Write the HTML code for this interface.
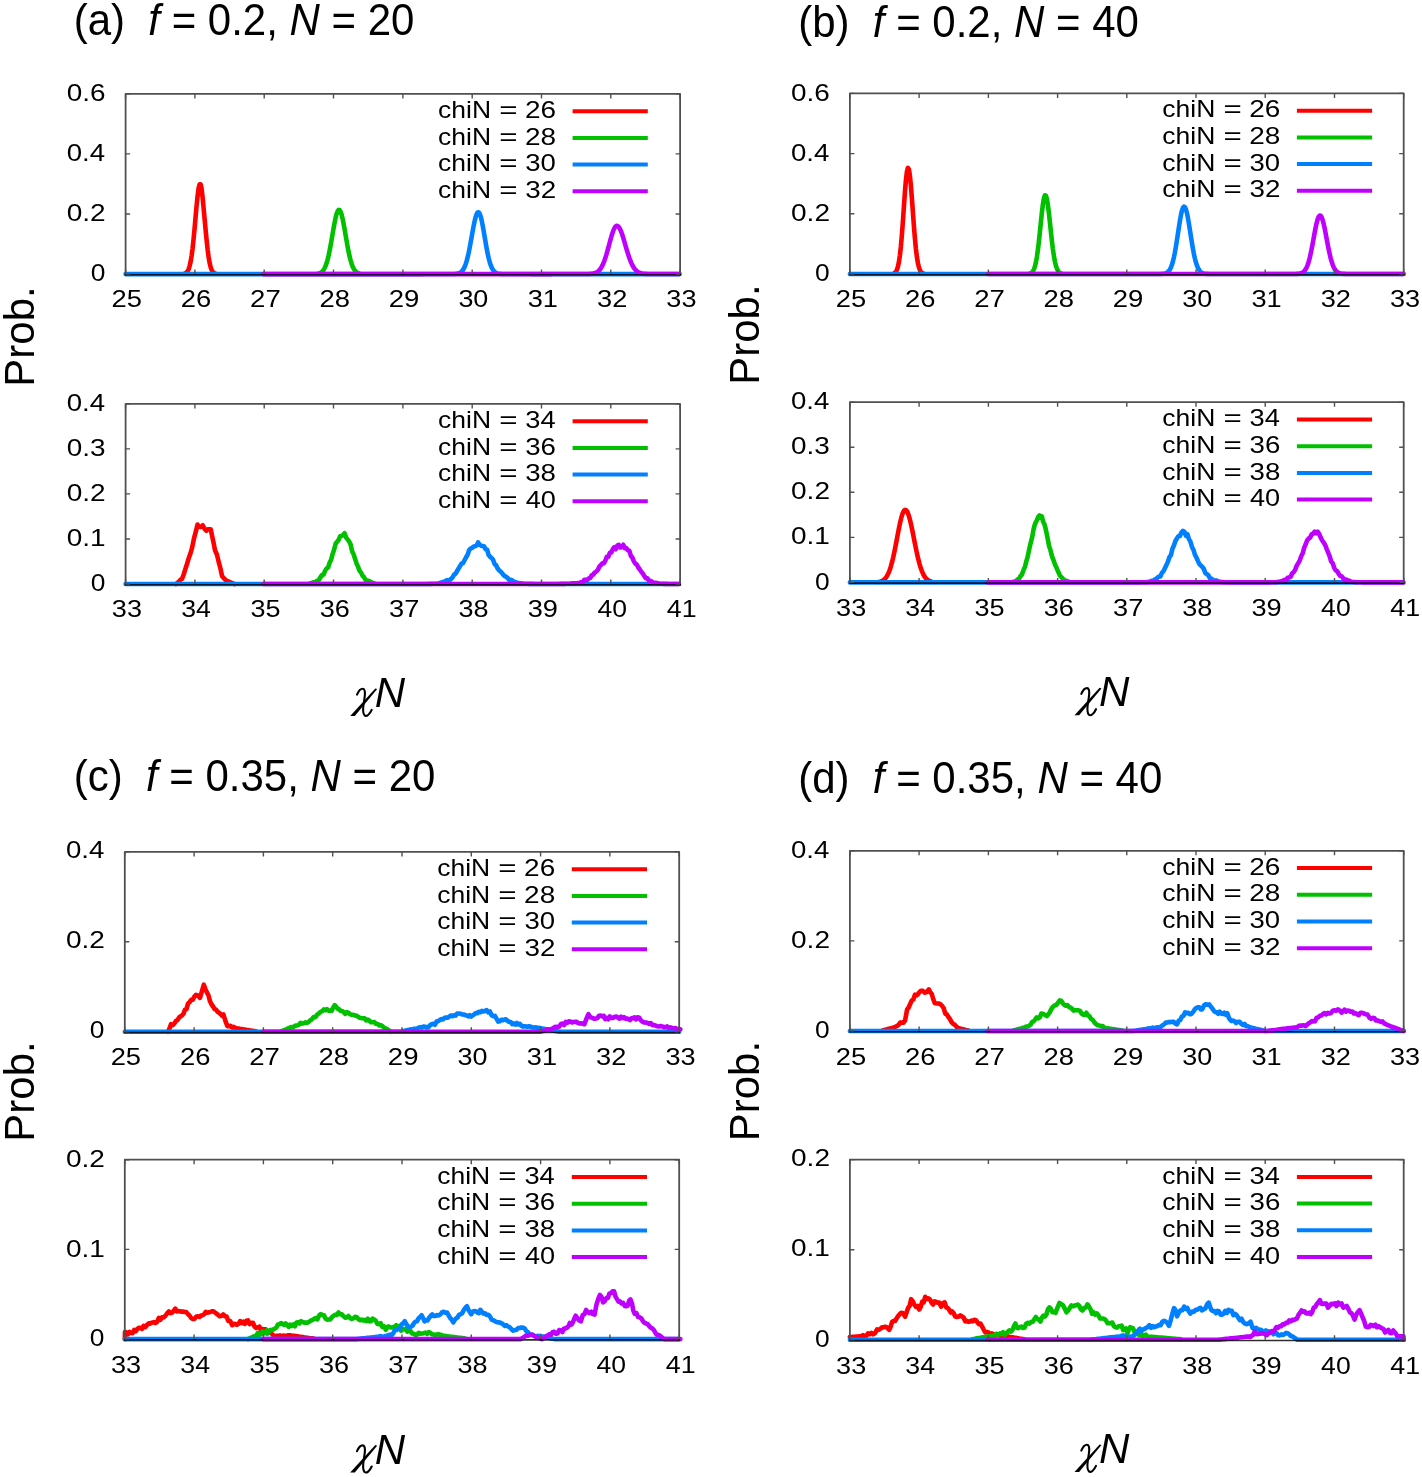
<!DOCTYPE html>
<html><head><meta charset="utf-8"><style>
html,body{margin:0;padding:0;background:#fff;}
body{width:1422px;height:1477px;overflow:hidden;font-family:"Liberation Sans", sans-serif;}
svg{display:block;filter:blur(0.45px);}
</style></head><body>
<svg width="1422" height="1477" viewBox="0 0 1422 1477">
<rect width="1422" height="1477" fill="#fff"/>
<g font-family='"Liberation Sans", sans-serif' font-size="23" fill="#000">
<path d="M184.6,273.6 L185.6,273.2 L186.6,272.4 L187.6,271.2 L188.6,269.2 L189.6,266.1 L190.6,261.8 L191.6,255.8 L192.6,248.2 L193.6,238.8 L194.6,228.2 L195.6,216.8 L196.6,205.6 L197.6,195.8 L198.6,188.3 L199.6,184.2 L200.6,184.2 L201.6,188.8 L202.6,197.4 L203.6,208.1 L204.6,219.0 L205.6,229.7 L206.6,240.0 L207.6,249.3 L208.6,256.9 L209.6,262.8 L210.6,267.0 L211.6,269.8 L212.6,271.7 L213.6,272.7 L214.6,273.4 L215.6,273.7" fill="none" stroke="#ff0000" stroke-width="4.6" stroke-linejoin="round" stroke-linecap="round"/>
<path d="M318.6,273.5 L319.6,273.2 L320.6,272.7 L321.6,272.1 L322.6,271.1 L323.6,269.8 L324.6,268.1 L325.6,265.9 L326.6,263.1 L327.6,259.6 L328.6,255.5 L329.6,250.7 L330.6,245.5 L331.6,239.8 L332.6,233.9 L333.6,228.1 L334.6,222.6 L335.6,217.8 L336.6,213.9 L337.6,211.2 L338.6,209.9 L339.6,210.1 L340.6,211.7 L341.6,214.6 L342.6,218.7 L343.6,223.7 L344.6,229.2 L345.6,235.1 L346.6,240.9 L347.6,246.6 L348.6,251.7 L349.6,256.4 L350.6,260.3 L351.6,263.7 L352.6,266.4 L353.6,268.5 L354.6,270.1 L355.6,271.3 L356.6,272.2 L357.6,272.8 L358.6,273.3 L359.6,273.6" fill="none" stroke="#00c000" stroke-width="4.6" stroke-linejoin="round" stroke-linecap="round"/>
<path d="M125.6,274.1 L126.6,274.1 L127.6,274.1 L128.6,274.1 L129.6,274.1 L130.6,274.1 L131.6,274.1 L132.6,274.1 L133.6,274.1 L134.6,274.1 L135.6,274.1 L136.6,274.1 L137.6,274.1 L138.6,274.1 L139.6,274.1 L140.6,274.1 L141.6,274.1 L142.6,274.1 L143.6,274.1 L144.6,274.1 L145.6,274.1 L146.6,274.1 L147.6,274.1 L148.6,274.1 L149.6,274.1 L150.6,274.1 L151.6,274.1 L152.6,274.1 L153.6,274.1 L154.6,274.1 L155.6,274.1 L156.6,274.1 L157.6,274.1 L158.6,274.1 L159.6,274.1 L160.6,274.1 L161.6,274.1 L162.6,274.1 L163.6,274.1 L164.6,274.1 L165.6,274.1 L166.6,274.1 L167.6,274.1 L168.6,274.1 L169.6,274.1 L170.6,274.1 L171.6,274.1 L172.6,274.1 L173.6,274.1 L174.6,274.1 L175.6,274.1 L176.6,274.1 L177.6,274.1 L178.6,274.1 L179.6,274.1 L180.6,274.1 L181.6,274.1 L182.6,274.1 L183.6,274.1 L184.6,274.1 L185.6,274.1 L186.6,274.1 L187.6,274.1 L188.6,274.1 L189.6,274.1 L190.6,274.1 L191.6,274.1 L192.6,274.1 L193.6,274.1 L194.6,274.1 L195.6,274.1 L196.6,274.1 L197.6,274.1 L198.6,274.1 L199.6,274.1 L200.6,274.1 L201.6,274.1 L202.6,274.1 L203.6,274.1 L204.6,274.1 L205.6,274.1 L206.6,274.1 L207.6,274.1 L208.6,274.1 L209.6,274.1 L210.6,274.1 L211.6,274.1 L212.6,274.1 L213.6,274.1 L214.6,274.1 L215.6,274.1 L216.6,274.1 L217.6,274.1 L218.6,274.1 L219.6,274.1 L220.6,274.1 L221.6,274.1 L222.6,274.1 L223.6,274.1 L224.6,274.1 L225.6,274.1 L226.6,274.1 L227.6,274.1 L228.6,274.1 L229.6,274.1 L230.6,274.1 L231.6,274.1 L232.6,274.1 L233.6,274.1 L234.6,274.1 L235.6,274.1 L236.6,274.1 L237.6,274.1 L238.6,274.1 L239.6,274.1 L240.6,274.1 L241.6,274.1 L242.6,274.1 L243.6,274.1 L244.6,274.1 L245.6,274.1 L246.6,274.1 L247.6,274.1 L248.6,274.1 L249.6,274.1 L250.6,274.1 L251.6,274.1 L252.6,274.1 L253.6,274.1 L254.6,274.1 L255.6,274.1 L256.6,274.1 L257.6,274.1 L258.6,274.1 L259.6,274.1 L260.6,274.1 L261.6,274.1 L262.6,274.1 L263.6,274.1 L264.6,274.1 L265.6,274.1 L266.6,274.1 L267.6,274.1 L268.6,274.1 L269.6,274.1 L270.6,274.1 L271.6,274.1 L272.6,274.1 L273.6,274.1 L274.6,274.1 L275.6,274.1 L276.6,274.1 L277.6,274.1 L278.6,274.1 L279.6,274.1 L280.6,274.1 L281.6,274.1 L282.6,274.1 L283.6,274.1 L284.6,274.1 L285.6,274.1 L286.6,274.1 L287.6,274.1 L288.6,274.1 L289.6,274.1 L290.6,274.1 L291.6,274.1 L292.6,274.1 L293.6,274.1 L294.6,274.1 L295.6,274.1 L296.6,274.1 L297.6,274.1 L298.6,274.1 L299.6,274.1 L300.6,274.1 L301.6,274.1 L302.6,274.1 L303.6,274.1 L304.6,274.1 L305.6,274.1 L306.6,274.1 L307.6,274.1 L308.6,274.1 L309.6,274.1 L310.6,274.1 L311.6,274.1 L312.6,274.1 L313.6,274.1 L314.6,274.1 L315.6,274.1 L316.6,274.1 L317.6,274.1 L318.6,274.1 L319.6,274.1 L320.6,274.1 L321.6,274.1 L322.6,274.1 L323.6,274.1 L324.6,274.1 L325.6,274.1 L326.6,274.1 L327.6,274.1 L328.6,274.1 L329.6,274.1 L330.6,274.1 L331.6,274.1 L332.6,274.1 L333.6,274.1 L334.6,274.1 L335.6,274.1 L336.6,274.1 L337.6,274.1 L338.6,274.1 L339.6,274.1 L340.6,274.1 L341.6,274.1 L342.6,274.1 L343.6,274.1 L344.6,274.1 L345.6,274.1 L346.6,274.1 L347.6,274.1 L348.6,274.1 L349.6,274.1 L350.6,274.1 L351.6,274.1 L352.6,274.1 L353.6,274.1 L354.6,274.1 L355.6,274.1 L356.6,274.1 L357.6,274.1 L358.6,274.1 L359.6,274.1 L360.6,274.1 L361.6,274.1 L362.6,274.1 L363.6,274.1 L364.6,274.1 L365.6,274.1 L366.6,274.1 L367.6,274.1 L368.6,274.1 L369.6,274.1 L370.6,274.1 L371.6,274.1 L372.6,274.1 L373.6,274.1 L374.6,274.1 L375.6,274.1 L376.6,274.1 L377.6,274.1 L378.6,274.1 L379.6,274.1 L380.6,274.1 L381.6,274.1 L382.6,274.1 L383.6,274.1 L384.6,274.1 L385.6,274.1 L386.6,274.1 L387.6,274.1 L388.6,274.1 L389.6,274.1 L390.6,274.1 L391.6,274.1 L392.6,274.1 L393.6,274.1 L394.6,274.1 L395.6,274.1 L396.6,274.1 L397.6,274.1 L398.6,274.1 L399.6,274.1 L400.6,274.1 L401.6,274.1 L402.6,274.1 L403.6,274.1 L404.6,274.1 L405.6,274.1 L406.6,274.1 L407.6,274.1 L408.6,274.1 L409.6,274.1 L410.6,274.1 L411.6,274.1 L412.6,274.1 L413.6,274.1 L414.6,274.1 L415.6,274.1 L416.6,274.1 L417.6,274.1 L418.6,274.1 L419.6,274.1 L420.6,274.1 L421.6,274.1 L422.6,274.1 L423.6,274.0 L424.6,274.0 L425.6,274.0 L426.6,274.0 L427.6,274.0 L428.6,274.0 L429.6,274.0 L430.6,274.0 L431.6,274.0 L432.6,274.0 L433.6,274.0 L434.6,274.0 L435.6,274.0 L436.6,274.0 L437.6,274.0 L438.6,274.0 L439.6,274.0 L440.6,274.0 L441.6,274.0 L442.6,274.0 L443.6,274.0 L444.6,274.0 L445.6,274.0 L446.6,274.0 L447.6,274.0 L448.6,274.0 L449.6,274.0 L450.6,274.0 L451.6,274.0 L452.6,274.0 L453.6,274.0 L454.6,274.0 L455.6,273.9 L456.6,273.8 L457.6,273.6 L458.6,273.3 L459.6,272.9 L460.6,272.4 L461.6,271.5 L462.6,270.4 L463.6,268.9 L464.6,266.9 L465.6,264.3 L466.6,261.2 L467.6,257.4 L468.6,253.0 L469.6,248.1 L470.6,242.7 L471.6,237.1 L472.6,231.5 L473.6,226.1 L474.6,221.2 L475.6,217.2 L476.6,214.2 L477.6,212.5 L478.6,212.3 L479.6,213.5 L480.6,216.2 L481.6,220.1 L482.6,225.1 L483.6,230.6 L484.6,236.5 L485.6,242.4 L486.6,248.1 L487.6,253.2 L488.6,257.8 L489.6,261.7 L490.6,264.9 L491.6,267.4 L492.6,269.3 L493.6,270.8 L494.6,271.9 L495.6,272.6 L496.6,273.1 L497.6,273.5 L498.6,273.7 L499.6,273.8 L500.6,273.9 L501.6,274.0 L502.6,274.0 L503.6,274.0 L504.6,274.0 L505.6,274.0 L506.6,274.0 L507.6,274.0 L508.6,274.0 L509.6,274.0 L510.6,274.0 L511.6,274.0 L512.6,274.0 L513.6,274.0 L514.6,274.0 L515.6,274.0 L516.6,274.0 L517.6,274.0 L518.6,274.0 L519.6,274.0 L520.6,274.0 L521.6,274.0 L522.6,274.0 L523.6,274.0 L524.6,274.0 L525.6,274.0 L526.6,274.0 L527.6,274.0 L528.6,274.0 L529.6,274.0 L530.6,274.0 L531.6,274.1 L532.6,274.1 L533.6,274.1 L534.6,274.1 L535.6,274.1 L536.6,274.1 L537.6,274.1 L538.6,274.1 L539.6,274.1 L540.6,274.1 L541.6,274.1 L542.6,274.1 L543.6,274.1 L544.6,274.1 L545.6,274.1 L546.6,274.1 L547.6,274.1 L548.6,274.1 L549.6,274.1 L550.6,274.1 L551.6,274.1 L552.6,274.1 L553.6,274.1 L554.6,274.1 L555.6,274.1 L556.6,274.1 L557.6,274.1 L558.6,274.1 L559.6,274.1 L560.6,274.1 L561.6,274.1 L562.6,274.1 L563.6,274.1 L564.6,274.1 L565.6,274.1 L566.6,274.1 L567.6,274.1 L568.6,274.1 L569.6,274.1 L570.6,274.1 L571.6,274.1 L572.6,274.1 L573.6,274.1 L574.6,274.1 L575.6,274.1 L576.6,274.1 L577.6,274.1 L578.6,274.1 L579.6,274.1 L580.6,274.1 L581.6,274.1 L582.6,274.1 L583.6,274.1 L584.6,274.1 L585.6,274.1 L586.6,274.1 L587.6,274.1 L588.6,274.1 L589.6,274.1 L590.6,274.1 L591.6,274.1 L592.6,274.1 L593.6,274.1 L594.6,274.1 L595.6,274.1 L596.6,274.1 L597.6,274.1 L598.6,274.1 L599.6,274.1 L600.6,274.1 L601.6,274.1 L602.6,274.1 L603.6,274.1 L604.6,274.1 L605.6,274.1 L606.6,274.1 L607.6,274.1 L608.6,274.1 L609.6,274.1 L610.6,274.1 L611.6,274.1 L612.6,274.1 L613.6,274.1 L614.6,274.1 L615.6,274.1 L616.6,274.1 L617.6,274.1 L618.6,274.1 L619.6,274.1 L620.6,274.1 L621.6,274.1 L622.6,274.1 L623.6,274.1 L624.6,274.1 L625.6,274.1 L626.6,274.1 L627.6,274.1 L628.6,274.1 L629.6,274.1 L630.6,274.1 L631.6,274.1 L632.6,274.1 L633.6,274.1 L634.6,274.1 L635.6,274.1 L636.6,274.1 L637.6,274.1 L638.6,274.1 L639.6,274.1 L640.6,274.1 L641.6,274.1 L642.6,274.1 L643.6,274.1 L644.6,274.1 L645.6,274.1 L646.6,274.1 L647.6,274.1 L648.6,274.1 L649.6,274.1 L650.6,274.1 L651.6,274.1 L652.6,274.1 L653.6,274.1 L654.6,274.1 L655.6,274.1 L656.6,274.1 L657.6,274.1 L658.6,274.1 L659.6,274.1 L660.6,274.1 L661.6,274.1 L662.6,274.1 L663.6,274.1 L664.6,274.1 L665.6,274.1 L666.6,274.1 L667.6,274.1 L668.6,274.1 L669.6,274.1 L670.6,274.1 L671.6,274.1 L672.6,274.1 L673.6,274.1 L674.6,274.1 L675.6,274.1 L676.6,274.1 L677.6,274.1 L678.6,274.1 L679.6,274.1" fill="none" stroke="#0080ff" stroke-width="4.6" stroke-linejoin="round" stroke-linecap="round"/>
<path d="M263.3,274.1 L264.3,274.1 L265.3,274.1 L266.3,274.1 L267.3,274.1 L268.3,274.1 L269.3,274.1 L270.3,274.1 L271.3,274.1 L272.3,274.1 L273.3,274.1 L274.3,274.1 L275.3,274.1 L276.3,274.1 L277.3,274.1 L278.3,274.1 L279.3,274.1 L280.3,274.1 L281.3,274.1 L282.3,274.1 L283.3,274.1 L284.3,274.1 L285.3,274.1 L286.3,274.1 L287.3,274.1 L288.3,274.1 L289.3,274.1 L290.3,274.1 L291.3,274.1 L292.3,274.1 L293.3,274.1 L294.3,274.1 L295.3,274.1 L296.3,274.1 L297.3,274.1 L298.3,274.1 L299.3,274.1 L300.3,274.1 L301.3,274.1 L302.3,274.1 L303.3,274.1 L304.3,274.1 L305.3,274.1 L306.3,274.1 L307.3,274.1 L308.3,274.1 L309.3,274.1 L310.3,274.1 L311.3,274.1 L312.3,274.1 L313.3,274.1 L314.3,274.1 L315.3,274.1 L316.3,274.1 L317.3,274.1 L318.3,274.1 L319.3,274.1 L320.3,274.1 L321.3,274.1 L322.3,274.1 L323.3,274.1 L324.3,274.1 L325.3,274.1 L326.3,274.1 L327.3,274.1 L328.3,274.1 L329.3,274.1 L330.3,274.1 L331.3,274.1 L332.3,274.1 L333.3,274.1 L334.3,274.1 L335.3,274.1 L336.3,274.1 L337.3,274.1 L338.3,274.1 L339.3,274.1 L340.3,274.1 L341.3,274.1 L342.3,274.1 L343.3,274.1 L344.3,274.1 L345.3,274.1 L346.3,274.1 L347.3,274.1 L348.3,274.1 L349.3,274.1 L350.3,274.1 L351.3,274.1 L352.3,274.1 L353.3,274.1 L354.3,274.1 L355.3,274.1 L356.3,274.1 L357.3,274.1 L358.3,274.1 L359.3,274.1 L360.3,274.1 L361.3,274.1 L362.3,274.1 L363.3,274.1 L364.3,274.1 L365.3,274.1 L366.3,274.1 L367.3,274.1 L368.3,274.1 L369.3,274.1 L370.3,274.1 L371.3,274.1 L372.3,274.1 L373.3,274.1 L374.3,274.1 L375.3,274.1 L376.3,274.1 L377.3,274.1 L378.3,274.1 L379.3,274.1 L380.3,274.1 L381.3,274.1 L382.3,274.1 L383.3,274.1 L384.3,274.1 L385.3,274.1 L386.3,274.1 L387.3,274.1 L388.3,274.1 L389.3,274.1 L390.3,274.1 L391.3,274.1 L392.3,274.1 L393.3,274.1 L394.3,274.1 L395.3,274.1 L396.3,274.1 L397.3,274.1 L398.3,274.1 L399.3,274.1 L400.3,274.1 L401.3,274.1 L402.3,274.1 L403.3,274.1 L404.3,274.1 L405.3,274.1 L406.3,274.1 L407.3,274.1 L408.3,274.1 L409.3,274.1 L410.3,274.1 L411.3,274.1 L412.3,274.1 L413.3,274.1 L414.3,274.1 L415.3,274.1 L416.3,274.1 L417.3,274.1 L418.3,274.1 L419.3,274.1 L420.3,274.1 L421.3,274.1 L422.3,274.1 L423.3,274.1 L424.3,274.1 L425.3,274.1 L426.3,274.1 L427.3,274.1 L428.3,274.1 L429.3,274.1 L430.3,274.1 L431.3,274.1 L432.3,274.1 L433.3,274.1 L434.3,274.1 L435.3,274.1 L436.3,274.1 L437.3,274.1 L438.3,274.1 L439.3,274.1 L440.3,274.1 L441.3,274.1 L442.3,274.1 L443.3,274.1 L444.3,274.1 L445.3,274.1 L446.3,274.1 L447.3,274.1 L448.3,274.1 L449.3,274.1 L450.3,274.1 L451.3,274.1 L452.3,274.1 L453.3,274.1 L454.3,274.1 L455.3,274.1 L456.3,274.1 L457.3,274.1 L458.3,274.1 L459.3,274.1 L460.3,274.1 L461.3,274.1 L462.3,274.1 L463.3,274.1 L464.3,274.1 L465.3,274.1 L466.3,274.1 L467.3,274.1 L468.3,274.1 L469.3,274.1 L470.3,274.1 L471.3,274.1 L472.3,274.1 L473.3,274.1 L474.3,274.1 L475.3,274.1 L476.3,274.1 L477.3,274.1 L478.3,274.1 L479.3,274.1 L480.3,274.1 L481.3,274.1 L482.3,274.1 L483.3,274.1 L484.3,274.1 L485.3,274.1 L486.3,274.1 L487.3,274.1 L488.3,274.1 L489.3,274.1 L490.3,274.1 L491.3,274.1 L492.3,274.1 L493.3,274.1 L494.3,274.1 L495.3,274.1 L496.3,274.1 L497.3,274.1 L498.3,274.1 L499.3,274.1 L500.3,274.1 L501.3,274.1 L502.3,274.1 L503.3,274.1 L504.3,274.1 L505.3,274.1 L506.3,274.1 L507.3,274.1 L508.3,274.1 L509.3,274.1 L510.3,274.1 L511.3,274.1 L512.3,274.1 L513.3,274.1 L514.3,274.1 L515.3,274.1 L516.3,274.1 L517.3,274.1 L518.3,274.1 L519.3,274.1 L520.3,274.1 L521.3,274.1 L522.3,274.1 L523.3,274.1 L524.3,274.1 L525.3,274.1 L526.3,274.1 L527.3,274.1 L528.3,274.1 L529.3,274.1 L530.3,274.1 L531.3,274.1 L532.3,274.1 L533.3,274.1 L534.3,274.1 L535.3,274.1 L536.3,274.1 L537.3,274.1 L538.3,274.1 L539.3,274.1 L540.3,274.1 L541.3,274.1 L542.3,274.1 L543.3,274.1 L544.3,274.1 L545.3,274.1 L546.3,274.1 L547.3,274.1 L548.3,274.1 L549.3,274.1 L550.3,274.1 L551.3,274.1 L552.3,274.0 L553.3,274.0 L554.3,274.0 L555.3,274.0 L556.3,274.0 L557.3,274.0 L558.3,274.0 L559.3,274.0 L560.3,274.0 L561.3,274.0 L562.3,274.0 L563.3,274.0 L564.3,274.0 L565.3,274.0 L566.3,274.0 L567.3,274.0 L568.3,274.0 L569.3,274.0 L570.3,274.0 L571.3,274.0 L572.3,274.0 L573.3,274.0 L574.3,274.0 L575.3,274.0 L576.3,274.0 L577.3,274.0 L578.3,274.0 L579.3,274.0 L580.3,274.0 L581.3,274.0 L582.3,274.0 L583.3,274.0 L584.3,274.0 L585.3,274.0 L586.3,274.0 L587.3,274.0 L588.3,274.0 L589.3,274.0 L590.3,273.9 L591.3,273.8 L592.3,273.7 L593.3,273.6 L594.3,273.3 L595.3,273.0 L596.3,272.6 L597.3,272.0 L598.3,271.2 L599.3,270.3 L600.3,269.0 L601.3,267.5 L602.3,265.7 L603.3,263.5 L604.3,261.0 L605.3,258.1 L606.3,254.9 L607.3,251.4 L608.3,247.8 L609.3,244.0 L610.3,240.3 L611.3,236.8 L612.3,233.5 L613.3,230.7 L614.3,228.4 L615.3,226.8 L616.3,225.9 L617.3,225.9 L618.3,226.5 L619.3,227.7 L620.3,229.6 L621.3,232.0 L622.3,234.8 L623.3,238.0 L624.3,241.3 L625.3,244.8 L626.3,248.3 L627.3,251.6 L628.3,254.8 L629.3,257.8 L630.3,260.5 L631.3,262.9 L632.3,265.1 L633.3,266.9 L634.3,268.4 L635.3,269.7 L636.3,270.7 L637.3,271.5 L638.3,272.2 L639.3,272.7 L640.3,273.1 L641.3,273.3 L642.3,273.6 L643.3,273.7 L644.3,273.8 L645.3,273.9 L646.3,273.9 L647.3,274.0 L648.3,274.0 L649.3,274.0 L650.3,274.0 L651.3,274.0 L652.3,274.0 L653.3,274.0 L654.3,274.0 L655.3,274.0 L656.3,274.0 L657.3,274.0 L658.3,274.0 L659.3,274.0 L660.3,274.0 L661.3,274.0 L662.3,274.0 L663.3,274.0 L664.3,274.0 L665.3,274.0 L666.3,274.0 L667.3,274.0 L668.3,274.0 L669.3,274.0 L670.3,274.0 L671.3,274.0 L672.3,274.0 L673.3,274.0 L674.3,274.0 L675.3,274.0 L676.3,274.0 L677.3,274.0 L678.3,274.0 L679.3,274.0" fill="none" stroke="#c000ff" stroke-width="4.6" stroke-linejoin="round" stroke-linecap="round"/>
<path d="M125.6,275.7V93.9H680.1V275.7" fill="none" stroke="#505050" stroke-width="1.8" stroke-linejoin="round"/>
<line x1="124.8" y1="274.80" x2="680.9" y2="274.80" stroke="#000" stroke-opacity="0.82" stroke-width="1.6"/>
<path d="M125.6,274.1v-4.5M125.6,93.9v4.5M194.9,274.1v-4.5M194.9,93.9v4.5M264.2,274.1v-4.5M264.2,93.9v4.5M333.5,274.1v-4.5M333.5,93.9v4.5M402.9,274.1v-4.5M402.9,93.9v4.5M472.2,274.1v-4.5M472.2,93.9v4.5M541.5,274.1v-4.5M541.5,93.9v4.5M610.8,274.1v-4.5M610.8,93.9v4.5M680.1,274.1v-4.5M680.1,93.9v4.5M125.6,274.1h4.5M680.1,274.1h-4.5M125.6,214.0h4.5M680.1,214.0h-4.5M125.6,153.9h4.5M680.1,153.9h-4.5M125.6,93.9h4.5M680.1,93.9h-4.5" stroke="#505050" stroke-width="1.4" fill="none"/>
<text transform="matrix(1.1892 0 0 1.020 111.47 307.05)" font-size="23" font-family='"Liberation Sans", sans-serif'>25</text>
<text transform="matrix(1.1915 0 0 1.020 180.78 307.05)" font-size="23" font-family='"Liberation Sans", sans-serif'>26</text>
<text transform="matrix(1.1990 0 0 1.020 250.09 307.05)" font-size="23" font-family='"Liberation Sans", sans-serif'>27</text>
<text transform="matrix(1.1909 0 0 1.020 319.41 307.05)" font-size="23" font-family='"Liberation Sans", sans-serif'>28</text>
<text transform="matrix(1.1955 0 0 1.020 388.72 307.05)" font-size="23" font-family='"Liberation Sans", sans-serif'>29</text>
<text transform="matrix(1.1718 0 0 1.020 458.39 307.05)" font-size="23" font-family='"Liberation Sans", sans-serif'>30</text>
<text transform="matrix(1.1830 0 0 1.020 527.69 307.05)" font-size="23" font-family='"Liberation Sans", sans-serif'>31</text>
<text transform="matrix(1.1847 0 0 1.020 597.00 307.05)" font-size="23" font-family='"Liberation Sans", sans-serif'>32</text>
<text transform="matrix(1.1774 0 0 1.020 666.32 307.05)" font-size="23" font-family='"Liberation Sans", sans-serif'>33</text>
<text transform="matrix(1.1460 0 0 1.020 90.67 280.85)" font-size="23" font-family='"Liberation Sans", sans-serif'>0</text>
<text transform="matrix(1.2200 0 0 1.020 66.70 220.80)" font-size="23" font-family='"Liberation Sans", sans-serif'>0.2</text>
<text transform="matrix(1.2006 0 0 1.020 66.72 160.75)" font-size="23" font-family='"Liberation Sans", sans-serif'>0.4</text>
<text transform="matrix(1.2141 0 0 1.020 66.71 100.70)" font-size="23" font-family='"Liberation Sans", sans-serif'>0.6</text>
<text transform="matrix(1.1516 0 0 1.040 438.07 117.80)" font-size="23" font-family='"Liberation Sans", sans-serif'>chiN</text>
<text transform="matrix(1.3603 0 0 1.000 499.17 117.80)" font-size="23" font-family='"Liberation Sans", sans-serif'>=</text>
<text transform="matrix(1.2171 0 0 1.020 524.89 117.80)" font-size="23" font-family='"Liberation Sans", sans-serif'>26</text>
<line x1="572.6" y1="111.2" x2="647.8" y2="111.2" stroke="#ff0000" stroke-width="4"/>
<text transform="matrix(1.1516 0 0 1.040 438.07 144.50)" font-size="23" font-family='"Liberation Sans", sans-serif'>chiN</text>
<text transform="matrix(1.3603 0 0 1.000 499.17 144.50)" font-size="23" font-family='"Liberation Sans", sans-serif'>=</text>
<text transform="matrix(1.2166 0 0 1.020 524.89 144.50)" font-size="23" font-family='"Liberation Sans", sans-serif'>28</text>
<line x1="572.6" y1="137.9" x2="647.8" y2="137.9" stroke="#00c000" stroke-width="4"/>
<text transform="matrix(1.1516 0 0 1.040 438.07 171.20)" font-size="23" font-family='"Liberation Sans", sans-serif'>chiN</text>
<text transform="matrix(1.3603 0 0 1.000 499.17 171.20)" font-size="23" font-family='"Liberation Sans", sans-serif'>=</text>
<text transform="matrix(1.1970 0 0 1.020 525.25 171.20)" font-size="23" font-family='"Liberation Sans", sans-serif'>30</text>
<line x1="572.6" y1="164.6" x2="647.8" y2="164.6" stroke="#0080ff" stroke-width="4"/>
<text transform="matrix(1.1516 0 0 1.040 438.07 197.90)" font-size="23" font-family='"Liberation Sans", sans-serif'>chiN</text>
<text transform="matrix(1.3603 0 0 1.000 499.17 197.90)" font-size="23" font-family='"Liberation Sans", sans-serif'>=</text>
<text transform="matrix(1.2102 0 0 1.020 525.24 197.90)" font-size="23" font-family='"Liberation Sans", sans-serif'>32</text>
<line x1="572.6" y1="191.3" x2="647.8" y2="191.3" stroke="#c000ff" stroke-width="4"/>
<path d="M176.0,584.0 L177.5,582.8 L179.0,581.5 L180.5,579.8 L182.0,578.9 L183.7,574.5 L185.3,569.2 L187.0,564.1 L188.7,558.2 L190.3,553.9 L192.0,548.1 L194.0,538.4 L196.0,530.9 L197.5,524.5 L199.2,526.8 L201.0,526.9 L202.7,525.3 L205.0,529.5 L206.4,530.7 L207.8,529.2 L209.3,529.2 L210.7,529.2 L212.1,535.9 L213.6,543.0 L215.0,550.2 L217.0,554.7 L219.0,563.2 L220.5,568.6 L222.0,576.0 L224.0,578.4 L226.0,580.5 L227.7,581.2 L229.4,581.9 L231.0,582.6 L232.7,583.3 L234.4,584.0" fill="none" stroke="#ff0000" stroke-width="4.6" stroke-linejoin="round" stroke-linecap="round"/>
<path d="M310.1,583.4 L311.6,583.2 L313.1,582.3 L314.6,582.3 L316.1,581.3 L317.6,580.7 L319.1,579.6 L320.6,577.0 L322.1,575.0 L323.6,574.5 L325.1,570.9 L326.6,568.4 L328.1,567.5 L329.6,562.8 L331.1,559.8 L332.6,554.0 L334.1,549.8 L335.6,543.7 L337.1,541.8 L338.6,539.8 L340.1,536.3 L341.6,535.9 L343.1,535.2 L344.6,533.3 L346.1,537.6 L347.6,539.4 L349.1,541.5 L350.6,544.3 L352.1,551.2 L353.6,554.2 L355.1,559.1 L356.6,563.6 L358.1,566.9 L359.6,570.8 L361.1,572.6 L362.6,575.9 L364.1,577.3 L365.6,579.9 L367.1,581.1 L368.6,580.8 L370.1,581.6 L371.6,582.3 L373.1,583.2 L374.6,583.5" fill="none" stroke="#00c000" stroke-width="4.6" stroke-linejoin="round" stroke-linecap="round"/>
<path d="M125.6,584.0 L127.1,584.0 L128.6,584.0 L130.1,584.0 L131.6,584.0 L133.1,584.0 L134.6,584.0 L136.1,584.0 L137.6,584.0 L139.1,584.0 L140.6,584.0 L142.1,584.0 L143.6,584.0 L145.1,584.0 L146.6,584.0 L148.1,584.0 L149.6,584.0 L151.1,584.0 L152.6,584.0 L154.1,584.0 L155.6,584.0 L157.1,584.0 L158.6,584.0 L160.1,584.0 L161.6,584.0 L163.1,584.0 L164.6,584.0 L166.1,584.0 L167.6,584.0 L169.1,584.0 L170.6,584.0 L172.1,584.0 L173.6,584.0 L175.1,584.0 L176.6,584.0 L178.1,584.0 L179.6,584.0 L181.1,584.0 L182.6,584.0 L184.1,584.0 L185.6,584.0 L187.1,584.0 L188.6,584.0 L190.1,584.0 L191.6,584.0 L193.1,584.0 L194.6,584.0 L196.1,584.0 L197.6,584.0 L199.1,584.0 L200.6,584.0 L202.1,584.0 L203.6,584.0 L205.1,584.0 L206.6,584.0 L208.1,584.0 L209.6,584.0 L211.1,584.0 L212.6,584.0 L214.1,584.0 L215.6,584.0 L217.1,584.0 L218.6,584.0 L220.1,584.0 L221.6,584.0 L223.1,584.0 L224.6,584.0 L226.1,584.0 L227.6,584.0 L229.1,584.0 L230.6,584.0 L232.1,584.0 L233.6,584.0 L235.1,584.0 L236.6,584.0 L238.1,584.0 L239.6,584.0 L241.1,584.0 L242.6,584.0 L244.1,584.0 L245.6,584.0 L247.1,584.0 L248.6,584.0 L250.1,584.0 L251.6,584.0 L253.1,584.0 L254.6,584.0 L256.1,584.0 L257.6,584.0 L259.1,584.0 L260.6,584.0 L262.1,584.0 L263.6,584.0 L265.1,584.0 L266.6,584.0 L268.1,584.0 L269.6,584.0 L271.1,584.0 L272.6,584.0 L274.1,584.0 L275.6,584.0 L277.1,584.0 L278.6,584.0 L280.1,584.0 L281.6,584.0 L283.1,584.0 L284.6,584.0 L286.1,584.0 L287.6,584.0 L289.1,584.0 L290.6,584.0 L292.1,584.0 L293.6,584.0 L295.1,584.0 L296.6,584.0 L298.1,584.0 L299.6,584.0 L301.1,584.0 L302.6,584.0 L304.1,584.0 L305.6,584.0 L307.1,584.0 L308.6,584.0 L310.1,584.0 L311.6,584.0 L313.1,584.0 L314.6,584.0 L316.1,584.0 L317.6,584.0 L319.1,584.0 L320.6,584.0 L322.1,584.0 L323.6,584.0 L325.1,584.0 L326.6,584.0 L328.1,584.0 L329.6,584.0 L331.1,584.0 L332.6,584.0 L334.1,584.0 L335.6,584.0 L337.1,584.0 L338.6,584.0 L340.1,584.0 L341.6,584.0 L343.1,584.0 L344.6,584.0 L346.1,584.0 L347.6,584.0 L349.1,584.0 L350.6,584.0 L352.1,584.0 L353.6,584.0 L355.1,584.0 L356.6,584.0 L358.1,584.0 L359.6,584.0 L361.1,584.0 L362.6,584.0 L364.1,584.0 L365.6,584.0 L367.1,584.0 L368.6,584.0 L370.1,584.0 L371.6,584.0 L373.1,584.0 L374.6,584.0 L376.1,584.0 L377.6,584.0 L379.1,584.0 L380.6,584.0 L382.1,584.0 L383.6,584.0 L385.1,584.0 L386.6,584.0 L388.1,584.0 L389.6,584.0 L391.1,584.0 L392.6,584.0 L394.1,584.0 L395.6,584.0 L397.1,584.0 L398.6,584.0 L400.1,584.0 L401.6,584.0 L403.1,584.0 L404.6,584.0 L406.1,584.0 L407.6,584.0 L409.1,584.0 L410.6,584.0 L412.1,584.0 L413.6,584.0 L415.1,584.0 L416.6,584.0 L418.1,584.0 L419.6,584.0 L421.1,584.0 L422.6,584.0 L424.1,584.0 L425.6,584.0 L427.1,584.0 L428.6,583.9 L430.1,583.9 L431.6,583.9 L433.1,583.8 L434.6,583.8 L436.1,583.7 L437.6,583.5 L439.1,583.3 L440.6,582.6 L442.1,582.1 L443.6,582.2 L445.1,581.2 L446.6,580.4 L448.1,580.2 L449.6,580.2 L451.1,578.8 L452.6,577.4 L454.1,574.7 L455.6,573.6 L457.1,571.0 L458.6,568.5 L460.1,565.9 L461.6,563.6 L463.1,563.0 L464.6,560.0 L466.1,557.3 L467.6,554.8 L469.1,550.3 L470.6,548.5 L472.1,547.8 L473.6,546.7 L475.1,546.1 L476.6,545.6 L478.1,542.4 L479.6,544.7 L481.1,545.7 L482.6,546.1 L484.1,546.3 L485.6,549.1 L487.1,549.7 L488.6,554.8 L490.1,556.8 L491.6,558.1 L493.1,559.8 L494.6,564.0 L496.1,565.3 L497.6,568.4 L499.1,570.4 L500.6,571.5 L502.1,573.2 L503.6,575.2 L505.1,576.3 L506.6,577.1 L508.1,578.5 L509.6,580.4 L511.1,579.8 L512.6,580.5 L514.1,582.1 L515.6,582.0 L517.1,582.8 L518.6,583.0 L520.1,583.3 L521.6,583.4 L523.1,583.6 L524.6,583.7 L526.1,583.8 L527.6,583.8 L529.1,583.9 L530.6,583.9 L532.1,583.9 L533.6,584.0 L535.1,584.0 L536.6,584.0 L538.1,584.0 L539.6,584.0 L541.1,584.0 L542.6,584.0 L544.1,584.0 L545.6,584.0 L547.1,584.0 L548.6,584.0 L550.1,584.0 L551.6,584.0 L553.1,584.0 L554.6,584.0 L556.1,584.0 L557.6,584.0 L559.1,584.0 L560.6,584.0 L562.1,584.0 L563.6,584.0 L565.1,584.0 L566.6,584.0 L568.1,584.0 L569.6,584.0 L571.1,584.0 L572.6,584.0 L574.1,584.0 L575.6,584.0 L577.1,584.0 L578.6,584.0 L580.1,584.0 L581.6,584.0 L583.1,584.0 L584.6,584.0 L586.1,584.0 L587.6,584.0 L589.1,584.0 L590.6,584.0 L592.1,584.0 L593.6,584.0 L595.1,584.0 L596.6,584.0 L598.1,584.0 L599.6,584.0 L601.1,584.0 L602.6,584.0 L604.1,584.0 L605.6,584.0 L607.1,584.0 L608.6,584.0 L610.1,584.0 L611.6,584.0 L613.1,584.0 L614.6,584.0 L616.1,584.0 L617.6,584.0 L619.1,584.0 L620.6,584.0 L622.1,584.0 L623.6,584.0 L625.1,584.0 L626.6,584.0 L628.1,584.0 L629.6,584.0 L631.1,584.0 L632.6,584.0 L634.1,584.0 L635.6,584.0 L637.1,584.0 L638.6,584.0 L640.1,584.0 L641.6,584.0 L643.1,584.0 L644.6,584.0 L646.1,584.0 L647.6,584.0 L649.1,584.0 L650.6,584.0 L652.1,584.0 L653.6,584.0 L655.1,584.0 L656.6,584.0 L658.1,584.0 L659.6,584.0 L661.1,584.0 L662.6,584.0 L664.1,584.0 L665.6,584.0 L667.1,584.0 L668.6,584.0 L670.1,584.0 L671.6,584.0 L673.1,584.0 L674.6,584.0 L676.1,584.0 L677.6,584.0 L679.1,584.0" fill="none" stroke="#0080ff" stroke-width="4.6" stroke-linejoin="round" stroke-linecap="round"/>
<path d="M263.3,584.0 L264.8,584.0 L266.3,584.0 L267.8,584.0 L269.3,584.0 L270.8,584.0 L272.3,584.0 L273.8,584.0 L275.3,584.0 L276.8,584.0 L278.3,584.0 L279.8,584.0 L281.3,584.0 L282.8,584.0 L284.3,584.0 L285.8,584.0 L287.3,584.0 L288.8,584.0 L290.3,584.0 L291.8,584.0 L293.3,584.0 L294.8,584.0 L296.3,584.0 L297.8,584.0 L299.3,584.0 L300.8,584.0 L302.3,584.0 L303.8,584.0 L305.3,584.0 L306.8,584.0 L308.3,584.0 L309.8,584.0 L311.3,584.0 L312.8,584.0 L314.3,584.0 L315.8,584.0 L317.3,584.0 L318.8,584.0 L320.3,584.0 L321.8,584.0 L323.3,584.0 L324.8,584.0 L326.3,584.0 L327.8,584.0 L329.3,584.0 L330.8,584.0 L332.3,584.0 L333.8,584.0 L335.3,584.0 L336.8,584.0 L338.3,584.0 L339.8,584.0 L341.3,584.0 L342.8,584.0 L344.3,584.0 L345.8,584.0 L347.3,584.0 L348.8,584.0 L350.3,584.0 L351.8,584.0 L353.3,584.0 L354.8,584.0 L356.3,584.0 L357.8,584.0 L359.3,584.0 L360.8,584.0 L362.3,584.0 L363.8,584.0 L365.3,584.0 L366.8,584.0 L368.3,584.0 L369.8,584.0 L371.3,584.0 L372.8,584.0 L374.3,584.0 L375.8,584.0 L377.3,584.0 L378.8,584.0 L380.3,584.0 L381.8,584.0 L383.3,584.0 L384.8,584.0 L386.3,584.0 L387.8,584.0 L389.3,584.0 L390.8,584.0 L392.3,584.0 L393.8,584.0 L395.3,584.0 L396.8,584.0 L398.3,584.0 L399.8,584.0 L401.3,584.0 L402.8,584.0 L404.3,584.0 L405.8,584.0 L407.3,584.0 L408.8,584.0 L410.3,584.0 L411.8,584.0 L413.3,584.0 L414.8,584.0 L416.3,584.0 L417.8,584.0 L419.3,584.0 L420.8,584.0 L422.3,584.0 L423.8,584.0 L425.3,584.0 L426.8,584.0 L428.3,584.0 L429.8,584.0 L431.3,584.0 L432.8,584.0 L434.3,584.0 L435.8,584.0 L437.3,584.0 L438.8,584.0 L440.3,584.0 L441.8,584.0 L443.3,584.0 L444.8,584.0 L446.3,584.0 L447.8,584.0 L449.3,584.0 L450.8,584.0 L452.3,584.0 L453.8,584.0 L455.3,584.0 L456.8,584.0 L458.3,584.0 L459.8,584.0 L461.3,584.0 L462.8,584.0 L464.3,584.0 L465.8,584.0 L467.3,584.0 L468.8,584.0 L470.3,584.0 L471.8,584.0 L473.3,584.0 L474.8,584.0 L476.3,584.0 L477.8,584.0 L479.3,584.0 L480.8,584.0 L482.3,584.0 L483.8,584.0 L485.3,584.0 L486.8,584.0 L488.3,584.0 L489.8,584.0 L491.3,584.0 L492.8,584.0 L494.3,584.0 L495.8,584.0 L497.3,584.0 L498.8,584.0 L500.3,584.0 L501.8,584.0 L503.3,584.0 L504.8,584.0 L506.3,584.0 L507.8,584.0 L509.3,584.0 L510.8,584.0 L512.3,584.0 L513.8,584.0 L515.3,584.0 L516.8,584.0 L518.3,584.0 L519.8,584.0 L521.3,584.0 L522.8,584.0 L524.3,584.0 L525.8,584.0 L527.3,584.0 L528.8,584.0 L530.3,584.0 L531.8,584.0 L533.3,584.0 L534.8,584.0 L536.3,584.0 L537.8,584.0 L539.3,584.0 L540.8,584.0 L542.3,584.0 L543.8,584.0 L545.3,584.0 L546.8,584.0 L548.3,584.0 L549.8,584.0 L551.3,584.0 L552.8,584.0 L554.3,584.0 L555.8,584.0 L557.3,584.0 L558.8,584.0 L560.3,583.9 L561.8,583.9 L563.3,583.9 L564.8,583.9 L566.3,583.8 L567.8,583.8 L569.3,583.7 L570.8,583.6 L572.3,583.4 L573.8,583.3 L575.3,583.3 L576.8,583.2 L578.3,583.0 L579.8,582.9 L581.3,582.2 L582.8,582.0 L584.3,579.8 L585.8,579.8 L587.3,579.9 L588.8,578.4 L590.3,577.9 L591.8,575.1 L593.3,574.5 L594.8,572.5 L596.3,571.6 L597.8,569.9 L599.3,566.7 L600.8,565.2 L602.3,563.4 L603.8,563.2 L605.3,560.7 L606.8,556.7 L608.3,556.8 L609.8,552.7 L611.3,552.5 L612.8,549.1 L614.3,547.1 L615.8,549.2 L617.3,545.6 L618.8,544.9 L620.3,547.5 L621.8,546.9 L623.3,544.8 L624.8,548.3 L626.3,548.0 L627.8,550.3 L629.3,550.7 L630.8,555.7 L632.3,557.5 L633.8,561.1 L635.3,563.6 L636.8,564.7 L638.3,567.5 L639.8,569.5 L641.3,571.7 L642.8,573.6 L644.3,575.9 L645.8,578.1 L647.3,578.2 L648.8,580.6 L650.3,580.8 L651.8,581.5 L653.3,582.9 L654.8,582.8 L656.3,582.8 L657.8,583.4 L659.3,583.6 L660.8,583.7 L662.3,583.8 L663.8,583.9 L665.3,583.9 L666.8,583.9 L668.3,584.0 L669.8,584.0 L671.3,584.0 L672.8,584.0 L674.3,584.0 L675.8,584.0 L677.3,584.0 L678.8,584.0" fill="none" stroke="#c000ff" stroke-width="4.6" stroke-linejoin="round" stroke-linecap="round"/>
<path d="M125.6,585.6V403.9H680.1V585.6" fill="none" stroke="#505050" stroke-width="1.8" stroke-linejoin="round"/>
<line x1="124.8" y1="584.75" x2="680.9" y2="584.75" stroke="#000" stroke-opacity="0.82" stroke-width="1.6"/>
<path d="M125.6,584.0v-4.5M125.6,403.9v4.5M194.9,584.0v-4.5M194.9,403.9v4.5M264.2,584.0v-4.5M264.2,403.9v4.5M333.5,584.0v-4.5M333.5,403.9v4.5M402.9,584.0v-4.5M402.9,403.9v4.5M472.2,584.0v-4.5M472.2,403.9v4.5M541.5,584.0v-4.5M541.5,403.9v4.5M610.8,584.0v-4.5M610.8,403.9v4.5M680.1,584.0v-4.5M680.1,403.9v4.5M125.6,584.0h4.5M680.1,584.0h-4.5M125.6,539.0h4.5M680.1,539.0h-4.5M125.6,493.9h4.5M680.1,493.9h-4.5M125.6,448.9h4.5M680.1,448.9h-4.5M125.6,403.9h4.5M680.1,403.9h-4.5" stroke="#505050" stroke-width="1.4" fill="none"/>
<text transform="matrix(1.1774 0 0 1.020 111.82 617.25)" font-size="23" font-family='"Liberation Sans", sans-serif'>33</text>
<text transform="matrix(1.1609 0 0 1.020 181.15 617.25)" font-size="23" font-family='"Liberation Sans", sans-serif'>34</text>
<text transform="matrix(1.1752 0 0 1.020 250.45 617.25)" font-size="23" font-family='"Liberation Sans", sans-serif'>35</text>
<text transform="matrix(1.1774 0 0 1.020 319.76 617.25)" font-size="23" font-family='"Liberation Sans", sans-serif'>36</text>
<text transform="matrix(1.1847 0 0 1.020 389.06 617.25)" font-size="23" font-family='"Liberation Sans", sans-serif'>37</text>
<text transform="matrix(1.1768 0 0 1.020 458.38 617.25)" font-size="23" font-family='"Liberation Sans", sans-serif'>38</text>
<text transform="matrix(1.1813 0 0 1.020 527.69 617.25)" font-size="23" font-family='"Liberation Sans", sans-serif'>39</text>
<text transform="matrix(1.1550 0 0 1.020 597.43 617.25)" font-size="23" font-family='"Liberation Sans", sans-serif'>40</text>
<text transform="matrix(1.1658 0 0 1.020 666.73 617.25)" font-size="23" font-family='"Liberation Sans", sans-serif'>41</text>
<text transform="matrix(1.1460 0 0 1.020 90.67 590.80)" font-size="23" font-family='"Liberation Sans", sans-serif'>0</text>
<text transform="matrix(1.2186 0 0 1.020 66.71 545.77)" font-size="23" font-family='"Liberation Sans", sans-serif'>0.1</text>
<text transform="matrix(1.2200 0 0 1.020 66.70 500.75)" font-size="23" font-family='"Liberation Sans", sans-serif'>0.2</text>
<text transform="matrix(1.2141 0 0 1.020 66.71 455.72)" font-size="23" font-family='"Liberation Sans", sans-serif'>0.3</text>
<text transform="matrix(1.2006 0 0 1.020 66.72 410.70)" font-size="23" font-family='"Liberation Sans", sans-serif'>0.4</text>
<text transform="matrix(1.1516 0 0 1.040 438.07 427.80)" font-size="23" font-family='"Liberation Sans", sans-serif'>chiN</text>
<text transform="matrix(1.3603 0 0 1.000 499.17 427.80)" font-size="23" font-family='"Liberation Sans", sans-serif'>=</text>
<text transform="matrix(1.1859 0 0 1.020 525.26 427.80)" font-size="23" font-family='"Liberation Sans", sans-serif'>34</text>
<line x1="572.6" y1="421.2" x2="647.8" y2="421.2" stroke="#ff0000" stroke-width="4"/>
<text transform="matrix(1.1516 0 0 1.040 438.07 454.50)" font-size="23" font-family='"Liberation Sans", sans-serif'>chiN</text>
<text transform="matrix(1.3603 0 0 1.000 499.17 454.50)" font-size="23" font-family='"Liberation Sans", sans-serif'>=</text>
<text transform="matrix(1.2027 0 0 1.020 525.25 454.50)" font-size="23" font-family='"Liberation Sans", sans-serif'>36</text>
<line x1="572.6" y1="447.9" x2="647.8" y2="447.9" stroke="#00c000" stroke-width="4"/>
<text transform="matrix(1.1516 0 0 1.040 438.07 481.20)" font-size="23" font-family='"Liberation Sans", sans-serif'>chiN</text>
<text transform="matrix(1.3603 0 0 1.000 499.17 481.20)" font-size="23" font-family='"Liberation Sans", sans-serif'>=</text>
<text transform="matrix(1.2022 0 0 1.020 525.25 481.20)" font-size="23" font-family='"Liberation Sans", sans-serif'>38</text>
<line x1="572.6" y1="474.6" x2="647.8" y2="474.6" stroke="#0080ff" stroke-width="4"/>
<text transform="matrix(1.1516 0 0 1.040 438.07 507.90)" font-size="23" font-family='"Liberation Sans", sans-serif'>chiN</text>
<text transform="matrix(1.3603 0 0 1.000 499.17 507.90)" font-size="23" font-family='"Liberation Sans", sans-serif'>=</text>
<text transform="matrix(1.1798 0 0 1.020 525.68 507.90)" font-size="23" font-family='"Liberation Sans", sans-serif'>40</text>
<line x1="572.6" y1="501.3" x2="647.8" y2="501.3" stroke="#c000ff" stroke-width="4"/>
<path d="M893.9,273.4 L894.9,272.8 L895.9,271.7 L896.9,269.8 L897.9,266.8 L898.9,262.1 L899.9,255.3 L900.9,246.2 L901.9,234.6 L902.9,221.2 L903.9,206.7 L904.9,192.5 L905.9,180.3 L906.9,171.7 L907.9,167.9 L908.9,169.4 L909.9,175.6 L910.9,185.8 L911.9,198.5 L912.9,212.4 L913.9,226.0 L914.9,238.4 L915.9,248.8 L916.9,257.0 L917.9,263.0 L918.9,267.3 L919.9,270.0 L920.9,271.8 L921.9,272.8 L922.9,273.4 L923.9,273.7" fill="none" stroke="#ff0000" stroke-width="4.6" stroke-linejoin="round" stroke-linecap="round"/>
<path d="M1029.9,273.5 L1030.9,273.1 L1031.9,272.4 L1032.9,271.2 L1033.9,269.3 L1034.9,266.4 L1035.9,262.4 L1036.9,256.9 L1037.9,249.9 L1038.9,241.5 L1039.9,232.0 L1040.9,222.1 L1041.9,212.5 L1042.9,204.3 L1043.9,198.3 L1044.9,195.3 L1045.9,195.6 L1046.9,198.9 L1047.9,205.0 L1048.9,213.0 L1049.9,222.3 L1050.9,231.8 L1051.9,240.9 L1052.9,249.1 L1053.9,256.0 L1054.9,261.5 L1055.9,265.7 L1056.9,268.6 L1057.9,270.7 L1058.9,272.0 L1059.9,272.9 L1060.9,273.4 L1061.9,273.7" fill="none" stroke="#00c000" stroke-width="4.6" stroke-linejoin="round" stroke-linecap="round"/>
<path d="M849.9,274.0 L850.9,274.0 L851.9,274.0 L852.9,274.0 L853.9,274.0 L854.9,274.0 L855.9,274.0 L856.9,274.0 L857.9,274.0 L858.9,274.0 L859.9,274.0 L860.9,274.0 L861.9,274.0 L862.9,274.0 L863.9,274.0 L864.9,274.0 L865.9,274.0 L866.9,274.0 L867.9,274.0 L868.9,274.0 L869.9,274.0 L870.9,274.0 L871.9,274.0 L872.9,274.0 L873.9,274.0 L874.9,274.0 L875.9,274.0 L876.9,274.0 L877.9,274.0 L878.9,274.0 L879.9,274.0 L880.9,274.0 L881.9,274.0 L882.9,274.0 L883.9,274.0 L884.9,274.0 L885.9,274.0 L886.9,274.0 L887.9,274.0 L888.9,274.0 L889.9,274.0 L890.9,274.0 L891.9,274.0 L892.9,274.0 L893.9,274.0 L894.9,274.0 L895.9,274.0 L896.9,274.0 L897.9,274.0 L898.9,274.0 L899.9,274.0 L900.9,274.0 L901.9,274.0 L902.9,274.0 L903.9,274.0 L904.9,274.0 L905.9,274.0 L906.9,274.0 L907.9,274.0 L908.9,274.0 L909.9,274.0 L910.9,274.0 L911.9,274.0 L912.9,274.0 L913.9,274.0 L914.9,274.0 L915.9,274.0 L916.9,274.0 L917.9,274.0 L918.9,274.0 L919.9,274.0 L920.9,274.0 L921.9,274.0 L922.9,274.0 L923.9,274.0 L924.9,274.0 L925.9,274.0 L926.9,274.0 L927.9,274.0 L928.9,274.0 L929.9,274.0 L930.9,274.0 L931.9,274.0 L932.9,274.0 L933.9,274.0 L934.9,274.0 L935.9,274.0 L936.9,274.0 L937.9,274.0 L938.9,274.0 L939.9,274.0 L940.9,274.0 L941.9,274.0 L942.9,274.0 L943.9,274.0 L944.9,274.0 L945.9,274.0 L946.9,274.0 L947.9,274.0 L948.9,274.0 L949.9,274.0 L950.9,274.0 L951.9,274.0 L952.9,274.0 L953.9,274.0 L954.9,274.0 L955.9,274.0 L956.9,274.0 L957.9,274.0 L958.9,274.0 L959.9,274.0 L960.9,274.0 L961.9,274.0 L962.9,274.0 L963.9,274.0 L964.9,274.0 L965.9,274.0 L966.9,274.0 L967.9,274.0 L968.9,274.0 L969.9,274.0 L970.9,274.0 L971.9,274.0 L972.9,274.0 L973.9,274.0 L974.9,274.0 L975.9,274.0 L976.9,274.0 L977.9,274.0 L978.9,274.0 L979.9,274.0 L980.9,274.0 L981.9,274.0 L982.9,274.0 L983.9,274.0 L984.9,274.0 L985.9,274.0 L986.9,274.0 L987.9,274.0 L988.9,274.0 L989.9,274.0 L990.9,274.0 L991.9,274.0 L992.9,274.0 L993.9,274.0 L994.9,274.0 L995.9,274.0 L996.9,274.0 L997.9,274.0 L998.9,274.0 L999.9,274.0 L1000.9,274.0 L1001.9,274.0 L1002.9,274.0 L1003.9,274.0 L1004.9,274.0 L1005.9,274.0 L1006.9,274.0 L1007.9,274.0 L1008.9,274.0 L1009.9,274.0 L1010.9,274.0 L1011.9,274.0 L1012.9,274.0 L1013.9,274.0 L1014.9,274.0 L1015.9,274.0 L1016.9,274.0 L1017.9,274.0 L1018.9,274.0 L1019.9,274.0 L1020.9,274.0 L1021.9,274.0 L1022.9,274.0 L1023.9,274.0 L1024.9,274.0 L1025.9,274.0 L1026.9,274.0 L1027.9,274.0 L1028.9,274.0 L1029.9,274.0 L1030.9,274.0 L1031.9,274.0 L1032.9,274.0 L1033.9,274.0 L1034.9,274.0 L1035.9,274.0 L1036.9,274.0 L1037.9,274.0 L1038.9,274.0 L1039.9,274.0 L1040.9,274.0 L1041.9,274.0 L1042.9,274.0 L1043.9,274.0 L1044.9,274.0 L1045.9,274.0 L1046.9,274.0 L1047.9,274.0 L1048.9,274.0 L1049.9,274.0 L1050.9,274.0 L1051.9,274.0 L1052.9,274.0 L1053.9,274.0 L1054.9,274.0 L1055.9,274.0 L1056.9,274.0 L1057.9,274.0 L1058.9,274.0 L1059.9,274.0 L1060.9,274.0 L1061.9,274.0 L1062.9,274.0 L1063.9,274.0 L1064.9,274.0 L1065.9,274.0 L1066.9,274.0 L1067.9,274.0 L1068.9,274.0 L1069.9,274.0 L1070.9,274.0 L1071.9,274.0 L1072.9,274.0 L1073.9,274.0 L1074.9,274.0 L1075.9,274.0 L1076.9,274.0 L1077.9,274.0 L1078.9,274.0 L1079.9,274.0 L1080.9,274.0 L1081.9,274.0 L1082.9,274.0 L1083.9,274.0 L1084.9,274.0 L1085.9,274.0 L1086.9,274.0 L1087.9,274.0 L1088.9,274.0 L1089.9,274.0 L1090.9,274.0 L1091.9,274.0 L1092.9,274.0 L1093.9,274.0 L1094.9,274.0 L1095.9,274.0 L1096.9,274.0 L1097.9,274.0 L1098.9,274.0 L1099.9,274.0 L1100.9,274.0 L1101.9,274.0 L1102.9,274.0 L1103.9,274.0 L1104.9,274.0 L1105.9,274.0 L1106.9,274.0 L1107.9,274.0 L1108.9,274.0 L1109.9,274.0 L1110.9,274.0 L1111.9,274.0 L1112.9,274.0 L1113.9,274.0 L1114.9,274.0 L1115.9,274.0 L1116.9,274.0 L1117.9,274.0 L1118.9,274.0 L1119.9,274.0 L1120.9,274.0 L1121.9,274.0 L1122.9,274.0 L1123.9,274.0 L1124.9,274.0 L1125.9,274.0 L1126.9,274.0 L1127.9,274.0 L1128.9,274.0 L1129.9,274.0 L1130.9,274.0 L1131.9,274.0 L1132.9,274.0 L1133.9,274.0 L1134.9,274.0 L1135.9,274.0 L1136.9,274.0 L1137.9,274.0 L1138.9,274.0 L1139.9,274.0 L1140.9,274.0 L1141.9,274.0 L1142.9,274.0 L1143.9,274.0 L1144.9,274.0 L1145.9,274.0 L1146.9,274.0 L1147.9,274.0 L1148.9,274.0 L1149.9,274.0 L1150.9,274.0 L1151.9,274.0 L1152.9,274.0 L1153.9,274.0 L1154.9,274.0 L1155.9,274.0 L1156.9,274.0 L1157.9,274.0 L1158.9,274.0 L1159.9,274.0 L1160.9,274.0 L1161.9,273.9 L1162.9,273.8 L1163.9,273.7 L1164.9,273.5 L1165.9,273.2 L1166.9,272.7 L1167.9,272.0 L1168.9,271.0 L1169.9,269.5 L1170.9,267.5 L1171.9,264.9 L1172.9,261.5 L1173.9,257.3 L1174.9,252.4 L1175.9,246.7 L1176.9,240.4 L1177.9,233.8 L1178.9,227.1 L1179.9,220.8 L1180.9,215.3 L1181.9,210.8 L1182.9,207.9 L1183.9,206.6 L1184.9,207.1 L1185.9,209.3 L1186.9,212.9 L1187.9,217.8 L1188.9,223.6 L1189.9,229.9 L1190.9,236.4 L1191.9,242.7 L1192.9,248.6 L1193.9,253.9 L1194.9,258.5 L1195.9,262.3 L1196.9,265.4 L1197.9,267.9 L1198.9,269.7 L1199.9,271.1 L1200.9,272.1 L1201.9,272.8 L1202.9,273.2 L1203.9,273.5 L1204.9,273.7 L1205.9,273.8 L1206.9,273.9 L1207.9,273.9 L1208.9,274.0 L1209.9,274.0 L1210.9,274.0 L1211.9,274.0 L1212.9,274.0 L1213.9,274.0 L1214.9,274.0 L1215.9,274.0 L1216.9,274.0 L1217.9,274.0 L1218.9,274.0 L1219.9,274.0 L1220.9,274.0 L1221.9,274.0 L1222.9,274.0 L1223.9,274.0 L1224.9,274.0 L1225.9,274.0 L1226.9,274.0 L1227.9,274.0 L1228.9,274.0 L1229.9,274.0 L1230.9,274.0 L1231.9,274.0 L1232.9,274.0 L1233.9,274.0 L1234.9,274.0 L1235.9,274.0 L1236.9,274.0 L1237.9,274.0 L1238.9,274.0 L1239.9,274.0 L1240.9,274.0 L1241.9,274.0 L1242.9,274.0 L1243.9,274.0 L1244.9,274.0 L1245.9,274.0 L1246.9,274.0 L1247.9,274.0 L1248.9,274.0 L1249.9,274.0 L1250.9,274.0 L1251.9,274.0 L1252.9,274.0 L1253.9,274.0 L1254.9,274.0 L1255.9,274.0 L1256.9,274.0 L1257.9,274.0 L1258.9,274.0 L1259.9,274.0 L1260.9,274.0 L1261.9,274.0 L1262.9,274.0 L1263.9,274.0 L1264.9,274.0 L1265.9,274.0 L1266.9,274.0 L1267.9,274.0 L1268.9,274.0 L1269.9,274.0 L1270.9,274.0 L1271.9,274.0 L1272.9,274.0 L1273.9,274.0 L1274.9,274.0 L1275.9,274.0 L1276.9,274.0 L1277.9,274.0 L1278.9,274.0 L1279.9,274.0 L1280.9,274.0 L1281.9,274.0 L1282.9,274.0 L1283.9,274.0 L1284.9,274.0 L1285.9,274.0 L1286.9,274.0 L1287.9,274.0 L1288.9,274.0 L1289.9,274.0 L1290.9,274.0 L1291.9,274.0 L1292.9,274.0 L1293.9,274.0 L1294.9,274.0 L1295.9,274.0 L1296.9,274.0 L1297.9,274.0 L1298.9,274.0 L1299.9,274.0 L1300.9,274.0 L1301.9,274.0 L1302.9,274.0 L1303.9,274.0 L1304.9,274.0 L1305.9,274.0 L1306.9,274.0 L1307.9,274.0 L1308.9,274.0 L1309.9,274.0 L1310.9,274.0 L1311.9,274.0 L1312.9,274.0 L1313.9,274.0 L1314.9,274.0 L1315.9,274.0 L1316.9,274.0 L1317.9,274.0 L1318.9,274.0 L1319.9,274.0 L1320.9,274.0 L1321.9,274.0 L1322.9,274.0 L1323.9,274.0 L1324.9,274.0 L1325.9,274.0 L1326.9,274.0 L1327.9,274.0 L1328.9,274.0 L1329.9,274.0 L1330.9,274.0 L1331.9,274.0 L1332.9,274.0 L1333.9,274.0 L1334.9,274.0 L1335.9,274.0 L1336.9,274.0 L1337.9,274.0 L1338.9,274.0 L1339.9,274.0 L1340.9,274.0 L1341.9,274.0 L1342.9,274.0 L1343.9,274.0 L1344.9,274.0 L1345.9,274.0 L1346.9,274.0 L1347.9,274.0 L1348.9,274.0 L1349.9,274.0 L1350.9,274.0 L1351.9,274.0 L1352.9,274.0 L1353.9,274.0 L1354.9,274.0 L1355.9,274.0 L1356.9,274.0 L1357.9,274.0 L1358.9,274.0 L1359.9,274.0 L1360.9,274.0 L1361.9,274.0 L1362.9,274.0 L1363.9,274.0 L1364.9,274.0 L1365.9,274.0 L1366.9,274.0 L1367.9,274.0 L1368.9,274.0 L1369.9,274.0 L1370.9,274.0 L1371.9,274.0 L1372.9,274.0 L1373.9,274.0 L1374.9,274.0 L1375.9,274.0 L1376.9,274.0 L1377.9,274.0 L1378.9,274.0 L1379.9,274.0 L1380.9,274.0 L1381.9,274.0 L1382.9,274.0 L1383.9,274.0 L1384.9,274.0 L1385.9,274.0 L1386.9,274.0 L1387.9,274.0 L1388.9,274.0 L1389.9,274.0 L1390.9,274.0 L1391.9,274.0 L1392.9,274.0 L1393.9,274.0 L1394.9,274.0 L1395.9,274.0 L1396.9,274.0 L1397.9,274.0 L1398.9,274.0 L1399.9,274.0 L1400.9,274.0 L1401.9,274.0 L1402.9,274.0" fill="none" stroke="#0080ff" stroke-width="4.6" stroke-linejoin="round" stroke-linecap="round"/>
<path d="M987.7,274.0 L988.7,274.0 L989.7,274.0 L990.7,274.0 L991.7,274.0 L992.7,274.0 L993.7,274.0 L994.7,274.0 L995.7,274.0 L996.7,274.0 L997.7,274.0 L998.7,274.0 L999.7,274.0 L1000.7,274.0 L1001.7,274.0 L1002.7,274.0 L1003.7,274.0 L1004.7,274.0 L1005.7,274.0 L1006.7,274.0 L1007.7,274.0 L1008.7,274.0 L1009.7,274.0 L1010.7,274.0 L1011.7,274.0 L1012.7,274.0 L1013.7,274.0 L1014.7,274.0 L1015.7,274.0 L1016.7,274.0 L1017.7,274.0 L1018.7,274.0 L1019.7,274.0 L1020.7,274.0 L1021.7,274.0 L1022.7,274.0 L1023.7,274.0 L1024.7,274.0 L1025.7,274.0 L1026.7,274.0 L1027.7,274.0 L1028.7,274.0 L1029.7,274.0 L1030.7,274.0 L1031.7,274.0 L1032.7,274.0 L1033.7,274.0 L1034.7,274.0 L1035.7,274.0 L1036.7,274.0 L1037.7,274.0 L1038.7,274.0 L1039.7,274.0 L1040.7,274.0 L1041.7,274.0 L1042.7,274.0 L1043.7,274.0 L1044.7,274.0 L1045.7,274.0 L1046.7,274.0 L1047.7,274.0 L1048.7,274.0 L1049.7,274.0 L1050.7,274.0 L1051.7,274.0 L1052.7,274.0 L1053.7,274.0 L1054.7,274.0 L1055.7,274.0 L1056.7,274.0 L1057.7,274.0 L1058.7,274.0 L1059.7,274.0 L1060.7,274.0 L1061.7,274.0 L1062.7,274.0 L1063.7,274.0 L1064.7,274.0 L1065.7,274.0 L1066.7,274.0 L1067.7,274.0 L1068.7,274.0 L1069.7,274.0 L1070.7,274.0 L1071.7,274.0 L1072.7,274.0 L1073.7,274.0 L1074.7,274.0 L1075.7,274.0 L1076.7,274.0 L1077.7,274.0 L1078.7,274.0 L1079.7,274.0 L1080.7,274.0 L1081.7,274.0 L1082.7,274.0 L1083.7,274.0 L1084.7,274.0 L1085.7,274.0 L1086.7,274.0 L1087.7,274.0 L1088.7,274.0 L1089.7,274.0 L1090.7,274.0 L1091.7,274.0 L1092.7,274.0 L1093.7,274.0 L1094.7,274.0 L1095.7,274.0 L1096.7,274.0 L1097.7,274.0 L1098.7,274.0 L1099.7,274.0 L1100.7,274.0 L1101.7,274.0 L1102.7,274.0 L1103.7,274.0 L1104.7,274.0 L1105.7,274.0 L1106.7,274.0 L1107.7,274.0 L1108.7,274.0 L1109.7,274.0 L1110.7,274.0 L1111.7,274.0 L1112.7,274.0 L1113.7,274.0 L1114.7,274.0 L1115.7,274.0 L1116.7,274.0 L1117.7,274.0 L1118.7,274.0 L1119.7,274.0 L1120.7,274.0 L1121.7,274.0 L1122.7,274.0 L1123.7,274.0 L1124.7,274.0 L1125.7,274.0 L1126.7,274.0 L1127.7,274.0 L1128.7,274.0 L1129.7,274.0 L1130.7,274.0 L1131.7,274.0 L1132.7,274.0 L1133.7,274.0 L1134.7,274.0 L1135.7,274.0 L1136.7,274.0 L1137.7,274.0 L1138.7,274.0 L1139.7,274.0 L1140.7,274.0 L1141.7,274.0 L1142.7,274.0 L1143.7,274.0 L1144.7,274.0 L1145.7,274.0 L1146.7,274.0 L1147.7,274.0 L1148.7,274.0 L1149.7,274.0 L1150.7,274.0 L1151.7,274.0 L1152.7,274.0 L1153.7,274.0 L1154.7,274.0 L1155.7,274.0 L1156.7,274.0 L1157.7,274.0 L1158.7,274.0 L1159.7,274.0 L1160.7,274.0 L1161.7,274.0 L1162.7,274.0 L1163.7,274.0 L1164.7,274.0 L1165.7,274.0 L1166.7,274.0 L1167.7,274.0 L1168.7,274.0 L1169.7,274.0 L1170.7,274.0 L1171.7,274.0 L1172.7,274.0 L1173.7,274.0 L1174.7,274.0 L1175.7,274.0 L1176.7,274.0 L1177.7,274.0 L1178.7,274.0 L1179.7,274.0 L1180.7,274.0 L1181.7,274.0 L1182.7,274.0 L1183.7,274.0 L1184.7,274.0 L1185.7,274.0 L1186.7,274.0 L1187.7,274.0 L1188.7,274.0 L1189.7,274.0 L1190.7,274.0 L1191.7,274.0 L1192.7,274.0 L1193.7,274.0 L1194.7,274.0 L1195.7,274.0 L1196.7,274.0 L1197.7,274.0 L1198.7,274.0 L1199.7,274.0 L1200.7,274.0 L1201.7,274.0 L1202.7,274.0 L1203.7,274.0 L1204.7,274.0 L1205.7,274.0 L1206.7,274.0 L1207.7,274.0 L1208.7,274.0 L1209.7,274.0 L1210.7,274.0 L1211.7,274.0 L1212.7,274.0 L1213.7,274.0 L1214.7,274.0 L1215.7,274.0 L1216.7,274.0 L1217.7,274.0 L1218.7,274.0 L1219.7,274.0 L1220.7,274.0 L1221.7,274.0 L1222.7,274.0 L1223.7,274.0 L1224.7,274.0 L1225.7,274.0 L1226.7,274.0 L1227.7,274.0 L1228.7,274.0 L1229.7,274.0 L1230.7,274.0 L1231.7,274.0 L1232.7,274.0 L1233.7,274.0 L1234.7,274.0 L1235.7,274.0 L1236.7,274.0 L1237.7,274.0 L1238.7,274.0 L1239.7,274.0 L1240.7,274.0 L1241.7,274.0 L1242.7,274.0 L1243.7,274.0 L1244.7,274.0 L1245.7,274.0 L1246.7,274.0 L1247.7,274.0 L1248.7,274.0 L1249.7,274.0 L1250.7,274.0 L1251.7,274.0 L1252.7,274.0 L1253.7,274.0 L1254.7,274.0 L1255.7,274.0 L1256.7,274.0 L1257.7,274.0 L1258.7,274.0 L1259.7,274.0 L1260.7,274.0 L1261.7,274.0 L1262.7,274.0 L1263.7,274.0 L1264.7,274.0 L1265.7,274.0 L1266.7,274.0 L1267.7,274.0 L1268.7,274.0 L1269.7,274.0 L1270.7,274.0 L1271.7,274.0 L1272.7,274.0 L1273.7,274.0 L1274.7,274.0 L1275.7,274.0 L1276.7,274.0 L1277.7,274.0 L1278.7,274.0 L1279.7,274.0 L1280.7,274.0 L1281.7,274.0 L1282.7,274.0 L1283.7,274.0 L1284.7,274.0 L1285.7,274.0 L1286.7,274.0 L1287.7,274.0 L1288.7,274.0 L1289.7,274.0 L1290.7,274.0 L1291.7,274.0 L1292.7,274.0 L1293.7,274.0 L1294.7,274.0 L1295.7,274.0 L1296.7,273.9 L1297.7,273.9 L1298.7,273.8 L1299.7,273.6 L1300.7,273.4 L1301.7,273.0 L1302.7,272.5 L1303.7,271.7 L1304.7,270.6 L1305.7,269.2 L1306.7,267.2 L1307.7,264.8 L1308.7,261.7 L1309.7,258.0 L1310.7,253.6 L1311.7,248.8 L1312.7,243.5 L1313.7,238.0 L1314.7,232.5 L1315.7,227.3 L1316.7,222.8 L1317.7,219.2 L1318.7,216.7 L1319.7,215.6 L1320.7,215.8 L1321.7,217.4 L1322.7,220.2 L1323.7,224.0 L1324.7,228.6 L1325.7,233.7 L1326.7,239.1 L1327.7,244.4 L1328.7,249.5 L1329.7,254.1 L1330.7,258.3 L1331.7,261.8 L1332.7,264.8 L1333.7,267.2 L1334.7,269.1 L1335.7,270.5 L1336.7,271.6 L1337.7,272.4 L1338.7,272.9 L1339.7,273.3 L1340.7,273.6 L1341.7,273.7 L1342.7,273.8 L1343.7,273.9 L1344.7,273.9 L1345.7,274.0 L1346.7,274.0 L1347.7,274.0 L1348.7,274.0 L1349.7,274.0 L1350.7,274.0 L1351.7,274.0 L1352.7,274.0 L1353.7,274.0 L1354.7,274.0 L1355.7,274.0 L1356.7,274.0 L1357.7,274.0 L1358.7,274.0 L1359.7,274.0 L1360.7,274.0 L1361.7,274.0 L1362.7,274.0 L1363.7,274.0 L1364.7,274.0 L1365.7,274.0 L1366.7,274.0 L1367.7,274.0 L1368.7,274.0 L1369.7,274.0 L1370.7,274.0 L1371.7,274.0 L1372.7,274.0 L1373.7,274.0 L1374.7,274.0 L1375.7,274.0 L1376.7,274.0 L1377.7,274.0 L1378.7,274.0 L1379.7,274.0 L1380.7,274.0 L1381.7,274.0 L1382.7,274.0 L1383.7,274.0 L1384.7,274.0 L1385.7,274.0 L1386.7,274.0 L1387.7,274.0 L1388.7,274.0 L1389.7,274.0 L1390.7,274.0 L1391.7,274.0 L1392.7,274.0 L1393.7,274.0 L1394.7,274.0 L1395.7,274.0 L1396.7,274.0 L1397.7,274.0 L1398.7,274.0 L1399.7,274.0 L1400.7,274.0 L1401.7,274.0 L1402.7,274.0 L1403.7,274.0" fill="none" stroke="#c000ff" stroke-width="4.6" stroke-linejoin="round" stroke-linecap="round"/>
<path d="M849.9,275.6V93.4H1403.7V275.6" fill="none" stroke="#505050" stroke-width="1.8" stroke-linejoin="round"/>
<line x1="849.1" y1="274.75" x2="1404.5" y2="274.75" stroke="#000" stroke-opacity="0.82" stroke-width="1.6"/>
<path d="M849.9,274.0v-4.5M849.9,93.4v4.5M919.1,274.0v-4.5M919.1,93.4v4.5M988.4,274.0v-4.5M988.4,93.4v4.5M1057.6,274.0v-4.5M1057.6,93.4v4.5M1126.8,274.0v-4.5M1126.8,93.4v4.5M1196.0,274.0v-4.5M1196.0,93.4v4.5M1265.2,274.0v-4.5M1265.2,93.4v4.5M1334.5,274.0v-4.5M1334.5,93.4v4.5M1403.7,274.0v-4.5M1403.7,93.4v4.5M849.9,274.0h4.5M1403.7,274.0h-4.5M849.9,213.8h4.5M1403.7,213.8h-4.5M849.9,153.6h4.5M1403.7,153.6h-4.5M849.9,93.4h4.5M1403.7,93.4h-4.5" stroke="#505050" stroke-width="1.4" fill="none"/>
<text transform="matrix(1.1892 0 0 1.020 835.77 307.05)" font-size="23" font-family='"Liberation Sans", sans-serif'>25</text>
<text transform="matrix(1.1915 0 0 1.020 905.00 307.05)" font-size="23" font-family='"Liberation Sans", sans-serif'>26</text>
<text transform="matrix(1.1990 0 0 1.020 974.21 307.05)" font-size="23" font-family='"Liberation Sans", sans-serif'>27</text>
<text transform="matrix(1.1909 0 0 1.020 1043.45 307.05)" font-size="23" font-family='"Liberation Sans", sans-serif'>28</text>
<text transform="matrix(1.1955 0 0 1.020 1112.67 307.05)" font-size="23" font-family='"Liberation Sans", sans-serif'>29</text>
<text transform="matrix(1.1718 0 0 1.020 1182.25 307.05)" font-size="23" font-family='"Liberation Sans", sans-serif'>30</text>
<text transform="matrix(1.1830 0 0 1.020 1251.46 307.05)" font-size="23" font-family='"Liberation Sans", sans-serif'>31</text>
<text transform="matrix(1.1847 0 0 1.020 1320.69 307.05)" font-size="23" font-family='"Liberation Sans", sans-serif'>32</text>
<text transform="matrix(1.1774 0 0 1.020 1389.92 307.05)" font-size="23" font-family='"Liberation Sans", sans-serif'>33</text>
<text transform="matrix(1.1460 0 0 1.020 814.97 281.40)" font-size="23" font-family='"Liberation Sans", sans-serif'>0</text>
<text transform="matrix(1.2200 0 0 1.020 791.00 221.20)" font-size="23" font-family='"Liberation Sans", sans-serif'>0.2</text>
<text transform="matrix(1.2006 0 0 1.020 791.02 161.00)" font-size="23" font-family='"Liberation Sans", sans-serif'>0.4</text>
<text transform="matrix(1.2141 0 0 1.020 791.01 100.80)" font-size="23" font-family='"Liberation Sans", sans-serif'>0.6</text>
<text transform="matrix(1.1516 0 0 1.040 1162.37 117.30)" font-size="23" font-family='"Liberation Sans", sans-serif'>chiN</text>
<text transform="matrix(1.3603 0 0 1.000 1223.47 117.30)" font-size="23" font-family='"Liberation Sans", sans-serif'>=</text>
<text transform="matrix(1.2171 0 0 1.020 1249.19 117.30)" font-size="23" font-family='"Liberation Sans", sans-serif'>26</text>
<line x1="1296.9" y1="110.7" x2="1372.1" y2="110.7" stroke="#ff0000" stroke-width="4"/>
<text transform="matrix(1.1516 0 0 1.040 1162.37 144.00)" font-size="23" font-family='"Liberation Sans", sans-serif'>chiN</text>
<text transform="matrix(1.3603 0 0 1.000 1223.47 144.00)" font-size="23" font-family='"Liberation Sans", sans-serif'>=</text>
<text transform="matrix(1.2166 0 0 1.020 1249.19 144.00)" font-size="23" font-family='"Liberation Sans", sans-serif'>28</text>
<line x1="1296.9" y1="137.4" x2="1372.1" y2="137.4" stroke="#00c000" stroke-width="4"/>
<text transform="matrix(1.1516 0 0 1.040 1162.37 170.70)" font-size="23" font-family='"Liberation Sans", sans-serif'>chiN</text>
<text transform="matrix(1.3603 0 0 1.000 1223.47 170.70)" font-size="23" font-family='"Liberation Sans", sans-serif'>=</text>
<text transform="matrix(1.1970 0 0 1.020 1249.55 170.70)" font-size="23" font-family='"Liberation Sans", sans-serif'>30</text>
<line x1="1296.9" y1="164.1" x2="1372.1" y2="164.1" stroke="#0080ff" stroke-width="4"/>
<text transform="matrix(1.1516 0 0 1.040 1162.37 197.40)" font-size="23" font-family='"Liberation Sans", sans-serif'>chiN</text>
<text transform="matrix(1.3603 0 0 1.000 1223.47 197.40)" font-size="23" font-family='"Liberation Sans", sans-serif'>=</text>
<text transform="matrix(1.2102 0 0 1.020 1249.54 197.40)" font-size="23" font-family='"Liberation Sans", sans-serif'>32</text>
<line x1="1296.9" y1="190.8" x2="1372.1" y2="190.8" stroke="#c000ff" stroke-width="4"/>
<path d="M878.7,582.0 L879.9,581.7 L881.1,581.4 L882.3,580.8 L883.5,580.1 L884.7,579.1 L885.9,577.7 L887.1,575.8 L888.3,573.5 L889.5,570.5 L890.7,566.9 L891.9,562.7 L893.1,557.8 L894.3,552.2 L895.5,546.2 L896.7,540.0 L897.9,533.6 L899.1,527.5 L900.3,521.8 L901.5,517.0 L902.7,513.3 L903.9,510.8 L905.1,509.8 L906.3,510.3 L907.5,512.1 L908.7,515.3 L909.9,519.5 L911.1,524.6 L912.3,530.3 L913.5,536.3 L914.7,542.5 L915.9,548.4 L917.1,554.1 L918.3,559.2 L919.5,563.8 L920.7,567.8 L921.9,571.1 L923.1,573.9 L924.3,576.1 L925.5,577.8 L926.7,579.1 L927.9,580.1 L929.1,580.8 L930.3,581.3 L931.5,581.7 L932.7,581.9" fill="none" stroke="#ff0000" stroke-width="4.6" stroke-linejoin="round" stroke-linecap="round"/>
<path d="M1013.1,581.8 L1014.3,581.5 L1015.5,581.1 L1016.7,580.3 L1017.9,579.2 L1019.1,578.7 L1020.3,576.4 L1021.5,575.2 L1022.7,572.5 L1023.9,569.1 L1025.1,566.3 L1026.3,561.4 L1027.5,557.5 L1028.7,551.7 L1029.9,546.2 L1031.1,541.3 L1032.3,536.7 L1033.5,529.6 L1034.7,524.9 L1035.9,522.0 L1037.1,519.8 L1038.3,516.7 L1039.5,515.4 L1040.7,517.6 L1041.9,516.5 L1043.1,521.6 L1044.3,523.8 L1045.5,528.2 L1046.7,533.7 L1047.9,539.8 L1049.1,546.2 L1050.3,549.5 L1051.5,554.5 L1052.7,558.2 L1053.9,561.2 L1055.1,564.9 L1056.3,567.2 L1057.5,570.1 L1058.7,572.8 L1059.9,575.5 L1061.1,576.9 L1062.3,578.1 L1063.5,579.5 L1064.7,580.2 L1065.9,580.6 L1067.1,581.3 L1068.3,581.6 L1069.5,581.9" fill="none" stroke="#00c000" stroke-width="4.6" stroke-linejoin="round" stroke-linecap="round"/>
<path d="M849.9,582.4 L851.4,582.4 L852.9,582.4 L854.4,582.4 L855.9,582.4 L857.4,582.4 L858.9,582.4 L860.4,582.4 L861.9,582.4 L863.4,582.4 L864.9,582.4 L866.4,582.4 L867.9,582.4 L869.4,582.4 L870.9,582.4 L872.4,582.4 L873.9,582.4 L875.4,582.4 L876.9,582.4 L878.4,582.4 L879.9,582.4 L881.4,582.4 L882.9,582.4 L884.4,582.4 L885.9,582.4 L887.4,582.4 L888.9,582.4 L890.4,582.4 L891.9,582.4 L893.4,582.4 L894.9,582.4 L896.4,582.4 L897.9,582.4 L899.4,582.4 L900.9,582.4 L902.4,582.4 L903.9,582.4 L905.4,582.4 L906.9,582.4 L908.4,582.4 L909.9,582.4 L911.4,582.4 L912.9,582.4 L914.4,582.4 L915.9,582.4 L917.4,582.4 L918.9,582.4 L920.4,582.4 L921.9,582.4 L923.4,582.4 L924.9,582.4 L926.4,582.4 L927.9,582.4 L929.4,582.4 L930.9,582.4 L932.4,582.4 L933.9,582.4 L935.4,582.4 L936.9,582.4 L938.4,582.4 L939.9,582.4 L941.4,582.4 L942.9,582.4 L944.4,582.4 L945.9,582.4 L947.4,582.4 L948.9,582.4 L950.4,582.4 L951.9,582.4 L953.4,582.4 L954.9,582.4 L956.4,582.4 L957.9,582.4 L959.4,582.4 L960.9,582.4 L962.4,582.4 L963.9,582.4 L965.4,582.4 L966.9,582.4 L968.4,582.4 L969.9,582.4 L971.4,582.4 L972.9,582.4 L974.4,582.4 L975.9,582.4 L977.4,582.4 L978.9,582.4 L980.4,582.4 L981.9,582.4 L983.4,582.4 L984.9,582.4 L986.4,582.4 L987.9,582.4 L989.4,582.4 L990.9,582.4 L992.4,582.4 L993.9,582.4 L995.4,582.4 L996.9,582.4 L998.4,582.4 L999.9,582.4 L1001.4,582.4 L1002.9,582.4 L1004.4,582.4 L1005.9,582.4 L1007.4,582.4 L1008.9,582.4 L1010.4,582.4 L1011.9,582.4 L1013.4,582.4 L1014.9,582.4 L1016.4,582.4 L1017.9,582.4 L1019.4,582.4 L1020.9,582.4 L1022.4,582.4 L1023.9,582.4 L1025.4,582.4 L1026.9,582.4 L1028.4,582.4 L1029.9,582.4 L1031.4,582.4 L1032.9,582.4 L1034.4,582.4 L1035.9,582.4 L1037.4,582.4 L1038.9,582.4 L1040.4,582.4 L1041.9,582.4 L1043.4,582.4 L1044.9,582.4 L1046.4,582.4 L1047.9,582.4 L1049.4,582.4 L1050.9,582.4 L1052.4,582.4 L1053.9,582.4 L1055.4,582.4 L1056.9,582.4 L1058.4,582.4 L1059.9,582.4 L1061.4,582.4 L1062.9,582.4 L1064.4,582.4 L1065.9,582.4 L1067.4,582.4 L1068.9,582.4 L1070.4,582.4 L1071.9,582.4 L1073.4,582.4 L1074.9,582.4 L1076.4,582.4 L1077.9,582.4 L1079.4,582.4 L1080.9,582.4 L1082.4,582.4 L1083.9,582.4 L1085.4,582.4 L1086.9,582.4 L1088.4,582.4 L1089.9,582.4 L1091.4,582.4 L1092.9,582.4 L1094.4,582.4 L1095.9,582.4 L1097.4,582.4 L1098.9,582.4 L1100.4,582.4 L1101.9,582.4 L1103.4,582.4 L1104.9,582.4 L1106.4,582.4 L1107.9,582.4 L1109.4,582.4 L1110.9,582.4 L1112.4,582.4 L1113.9,582.4 L1115.4,582.4 L1116.9,582.4 L1118.4,582.4 L1119.9,582.4 L1121.4,582.4 L1122.9,582.4 L1124.4,582.4 L1125.9,582.4 L1127.4,582.4 L1128.9,582.4 L1130.4,582.4 L1131.9,582.4 L1133.4,582.4 L1134.9,582.4 L1136.4,582.4 L1137.9,582.4 L1139.4,582.4 L1140.9,582.3 L1142.4,582.3 L1143.9,582.3 L1145.4,582.2 L1146.9,582.1 L1148.4,581.9 L1149.9,581.6 L1151.4,580.9 L1152.9,581.6 L1154.4,579.6 L1155.9,579.8 L1157.4,577.6 L1158.9,576.6 L1160.4,576.4 L1161.9,572.8 L1163.4,571.3 L1164.9,568.2 L1166.4,565.1 L1167.9,561.8 L1169.4,557.2 L1170.9,555.2 L1172.4,548.9 L1173.9,545.5 L1175.4,541.0 L1176.9,538.5 L1178.4,536.2 L1179.9,536.0 L1181.4,532.5 L1182.9,530.9 L1184.4,531.8 L1185.9,535.8 L1187.4,534.1 L1188.9,539.0 L1190.4,541.7 L1191.9,546.7 L1193.4,549.7 L1194.9,554.7 L1196.4,557.5 L1197.9,560.9 L1199.4,564.1 L1200.9,565.6 L1202.4,566.9 L1203.9,569.1 L1205.4,573.1 L1206.9,574.1 L1208.4,575.3 L1209.9,578.1 L1211.4,578.6 L1212.9,579.8 L1214.4,580.8 L1215.9,580.4 L1217.4,581.0 L1218.9,581.6 L1220.4,581.8 L1221.9,582.0 L1223.4,582.1 L1224.9,582.2 L1226.4,582.3 L1227.9,582.3 L1229.4,582.3 L1230.9,582.4 L1232.4,582.4 L1233.9,582.4 L1235.4,582.4 L1236.9,582.4 L1238.4,582.4 L1239.9,582.4 L1241.4,582.4 L1242.9,582.4 L1244.4,582.4 L1245.9,582.4 L1247.4,582.4 L1248.9,582.4 L1250.4,582.4 L1251.9,582.4 L1253.4,582.4 L1254.9,582.4 L1256.4,582.4 L1257.9,582.4 L1259.4,582.4 L1260.9,582.4 L1262.4,582.4 L1263.9,582.4 L1265.4,582.4 L1266.9,582.4 L1268.4,582.4 L1269.9,582.4 L1271.4,582.4 L1272.9,582.4 L1274.4,582.4 L1275.9,582.4 L1277.4,582.4 L1278.9,582.4 L1280.4,582.4 L1281.9,582.4 L1283.4,582.4 L1284.9,582.4 L1286.4,582.4 L1287.9,582.4 L1289.4,582.4 L1290.9,582.4 L1292.4,582.4 L1293.9,582.4 L1295.4,582.4 L1296.9,582.4 L1298.4,582.4 L1299.9,582.4 L1301.4,582.4 L1302.9,582.4 L1304.4,582.4 L1305.9,582.4 L1307.4,582.4 L1308.9,582.4 L1310.4,582.4 L1311.9,582.4 L1313.4,582.4 L1314.9,582.4 L1316.4,582.4 L1317.9,582.4 L1319.4,582.4 L1320.9,582.4 L1322.4,582.4 L1323.9,582.4 L1325.4,582.4 L1326.9,582.4 L1328.4,582.4 L1329.9,582.4 L1331.4,582.4 L1332.9,582.4 L1334.4,582.4 L1335.9,582.4 L1337.4,582.4 L1338.9,582.4 L1340.4,582.4 L1341.9,582.4 L1343.4,582.4 L1344.9,582.4 L1346.4,582.4 L1347.9,582.4 L1349.4,582.4 L1350.9,582.4 L1352.4,582.4 L1353.9,582.4 L1355.4,582.4 L1356.9,582.4 L1358.4,582.4 L1359.9,582.4 L1361.4,582.4 L1362.9,582.4 L1364.4,582.4 L1365.9,582.4 L1367.4,582.4 L1368.9,582.4 L1370.4,582.4 L1371.9,582.4 L1373.4,582.4 L1374.9,582.4 L1376.4,582.4 L1377.9,582.4 L1379.4,582.4 L1380.9,582.4 L1382.4,582.4 L1383.9,582.4 L1385.4,582.4 L1386.9,582.4 L1388.4,582.4 L1389.9,582.4 L1391.4,582.4 L1392.9,582.4 L1394.4,582.4 L1395.9,582.4 L1397.4,582.4 L1398.9,582.4 L1400.4,582.4 L1401.9,582.4 L1403.4,582.4" fill="none" stroke="#0080ff" stroke-width="4.6" stroke-linejoin="round" stroke-linecap="round"/>
<path d="M987.7,582.4 L989.2,582.4 L990.7,582.4 L992.2,582.4 L993.7,582.4 L995.2,582.4 L996.7,582.4 L998.2,582.4 L999.7,582.4 L1001.2,582.4 L1002.7,582.4 L1004.2,582.4 L1005.7,582.4 L1007.2,582.4 L1008.7,582.4 L1010.2,582.4 L1011.7,582.4 L1013.2,582.4 L1014.7,582.4 L1016.2,582.4 L1017.7,582.4 L1019.2,582.4 L1020.7,582.4 L1022.2,582.4 L1023.7,582.4 L1025.2,582.4 L1026.7,582.4 L1028.2,582.4 L1029.7,582.4 L1031.2,582.4 L1032.7,582.4 L1034.2,582.4 L1035.7,582.4 L1037.2,582.4 L1038.7,582.4 L1040.2,582.4 L1041.7,582.4 L1043.2,582.4 L1044.7,582.4 L1046.2,582.4 L1047.7,582.4 L1049.2,582.4 L1050.7,582.4 L1052.2,582.4 L1053.7,582.4 L1055.2,582.4 L1056.7,582.4 L1058.2,582.4 L1059.7,582.4 L1061.2,582.4 L1062.7,582.4 L1064.2,582.4 L1065.7,582.4 L1067.2,582.4 L1068.7,582.4 L1070.2,582.4 L1071.7,582.4 L1073.2,582.4 L1074.7,582.4 L1076.2,582.4 L1077.7,582.4 L1079.2,582.4 L1080.7,582.4 L1082.2,582.4 L1083.7,582.4 L1085.2,582.4 L1086.7,582.4 L1088.2,582.4 L1089.7,582.4 L1091.2,582.4 L1092.7,582.4 L1094.2,582.4 L1095.7,582.4 L1097.2,582.4 L1098.7,582.4 L1100.2,582.4 L1101.7,582.4 L1103.2,582.4 L1104.7,582.4 L1106.2,582.4 L1107.7,582.4 L1109.2,582.4 L1110.7,582.4 L1112.2,582.4 L1113.7,582.4 L1115.2,582.4 L1116.7,582.4 L1118.2,582.4 L1119.7,582.4 L1121.2,582.4 L1122.7,582.4 L1124.2,582.4 L1125.7,582.4 L1127.2,582.4 L1128.7,582.4 L1130.2,582.4 L1131.7,582.4 L1133.2,582.4 L1134.7,582.4 L1136.2,582.4 L1137.7,582.4 L1139.2,582.4 L1140.7,582.4 L1142.2,582.4 L1143.7,582.4 L1145.2,582.4 L1146.7,582.4 L1148.2,582.4 L1149.7,582.4 L1151.2,582.4 L1152.7,582.4 L1154.2,582.4 L1155.7,582.4 L1157.2,582.4 L1158.7,582.4 L1160.2,582.4 L1161.7,582.4 L1163.2,582.4 L1164.7,582.4 L1166.2,582.4 L1167.7,582.4 L1169.2,582.4 L1170.7,582.4 L1172.2,582.4 L1173.7,582.4 L1175.2,582.4 L1176.7,582.4 L1178.2,582.4 L1179.7,582.4 L1181.2,582.4 L1182.7,582.4 L1184.2,582.4 L1185.7,582.4 L1187.2,582.4 L1188.7,582.4 L1190.2,582.4 L1191.7,582.4 L1193.2,582.4 L1194.7,582.4 L1196.2,582.4 L1197.7,582.4 L1199.2,582.4 L1200.7,582.4 L1202.2,582.4 L1203.7,582.4 L1205.2,582.4 L1206.7,582.4 L1208.2,582.4 L1209.7,582.4 L1211.2,582.4 L1212.7,582.4 L1214.2,582.4 L1215.7,582.4 L1217.2,582.4 L1218.7,582.4 L1220.2,582.4 L1221.7,582.4 L1223.2,582.4 L1224.7,582.4 L1226.2,582.4 L1227.7,582.4 L1229.2,582.4 L1230.7,582.4 L1232.2,582.4 L1233.7,582.4 L1235.2,582.4 L1236.7,582.4 L1238.2,582.4 L1239.7,582.4 L1241.2,582.4 L1242.7,582.4 L1244.2,582.4 L1245.7,582.4 L1247.2,582.4 L1248.7,582.4 L1250.2,582.4 L1251.7,582.4 L1253.2,582.4 L1254.7,582.4 L1256.2,582.4 L1257.7,582.4 L1259.2,582.4 L1260.7,582.4 L1262.2,582.4 L1263.7,582.4 L1265.2,582.4 L1266.7,582.4 L1268.2,582.4 L1269.7,582.4 L1271.2,582.3 L1272.7,582.3 L1274.2,582.2 L1275.7,582.2 L1277.2,582.0 L1278.7,581.9 L1280.2,581.6 L1281.7,581.3 L1283.2,580.7 L1284.7,579.7 L1286.2,580.2 L1287.7,577.7 L1289.2,577.4 L1290.7,576.7 L1292.2,573.3 L1293.7,572.1 L1295.2,569.7 L1296.7,565.6 L1298.2,563.2 L1299.7,560.6 L1301.2,556.2 L1302.7,553.3 L1304.2,547.7 L1305.7,544.2 L1307.2,540.2 L1308.7,538.5 L1310.2,537.5 L1311.7,534.2 L1313.2,533.7 L1314.7,531.6 L1316.2,533.2 L1317.7,531.6 L1319.2,534.0 L1320.7,537.6 L1322.2,540.5 L1323.7,542.6 L1325.2,544.9 L1326.7,549.1 L1328.2,552.7 L1329.7,556.5 L1331.2,561.5 L1332.7,563.2 L1334.2,567.8 L1335.7,570.4 L1337.2,571.1 L1338.7,573.8 L1340.2,575.8 L1341.7,576.4 L1343.2,578.3 L1344.7,580.1 L1346.2,579.5 L1347.7,580.9 L1349.2,580.6 L1350.7,581.5 L1352.2,581.8 L1353.7,582.0 L1355.2,582.1 L1356.7,582.2 L1358.2,582.3 L1359.7,582.3 L1361.2,582.3 L1362.7,582.4 L1364.2,582.4 L1365.7,582.4 L1367.2,582.4 L1368.7,582.4 L1370.2,582.4 L1371.7,582.4 L1373.2,582.4 L1374.7,582.4 L1376.2,582.4 L1377.7,582.4 L1379.2,582.4 L1380.7,582.4 L1382.2,582.4 L1383.7,582.4 L1385.2,582.4 L1386.7,582.4 L1388.2,582.4 L1389.7,582.4 L1391.2,582.4 L1392.7,582.4 L1394.2,582.4 L1395.7,582.4 L1397.2,582.4 L1398.7,582.4 L1400.2,582.4 L1401.7,582.4 L1403.2,582.4" fill="none" stroke="#c000ff" stroke-width="4.6" stroke-linejoin="round" stroke-linecap="round"/>
<path d="M849.9,584.0V402.2H1403.7V584.0" fill="none" stroke="#505050" stroke-width="1.8" stroke-linejoin="round"/>
<line x1="849.1" y1="583.15" x2="1404.5" y2="583.15" stroke="#000" stroke-opacity="0.82" stroke-width="1.6"/>
<path d="M849.9,582.4v-4.5M849.9,402.2v4.5M919.1,582.4v-4.5M919.1,402.2v4.5M988.4,582.4v-4.5M988.4,402.2v4.5M1057.6,582.4v-4.5M1057.6,402.2v4.5M1126.8,582.4v-4.5M1126.8,402.2v4.5M1196.0,582.4v-4.5M1196.0,402.2v4.5M1265.2,582.4v-4.5M1265.2,402.2v4.5M1334.5,582.4v-4.5M1334.5,402.2v4.5M1403.7,582.4v-4.5M1403.7,402.2v4.5M849.9,582.4h4.5M1403.7,582.4h-4.5M849.9,537.4h4.5M1403.7,537.4h-4.5M849.9,492.3h4.5M1403.7,492.3h-4.5M849.9,447.2h4.5M1403.7,447.2h-4.5M849.9,402.2h4.5M1403.7,402.2h-4.5" stroke="#505050" stroke-width="1.4" fill="none"/>
<text transform="matrix(1.1774 0 0 1.020 836.12 615.75)" font-size="23" font-family='"Liberation Sans", sans-serif'>33</text>
<text transform="matrix(1.1609 0 0 1.020 905.36 615.75)" font-size="23" font-family='"Liberation Sans", sans-serif'>34</text>
<text transform="matrix(1.1752 0 0 1.020 974.57 615.75)" font-size="23" font-family='"Liberation Sans", sans-serif'>35</text>
<text transform="matrix(1.1774 0 0 1.020 1043.79 615.75)" font-size="23" font-family='"Liberation Sans", sans-serif'>36</text>
<text transform="matrix(1.1847 0 0 1.020 1113.01 615.75)" font-size="23" font-family='"Liberation Sans", sans-serif'>37</text>
<text transform="matrix(1.1768 0 0 1.020 1182.24 615.75)" font-size="23" font-family='"Liberation Sans", sans-serif'>38</text>
<text transform="matrix(1.1813 0 0 1.020 1251.47 615.75)" font-size="23" font-family='"Liberation Sans", sans-serif'>39</text>
<text transform="matrix(1.1550 0 0 1.020 1321.12 615.75)" font-size="23" font-family='"Liberation Sans", sans-serif'>40</text>
<text transform="matrix(1.1658 0 0 1.020 1390.33 615.75)" font-size="23" font-family='"Liberation Sans", sans-serif'>41</text>
<text transform="matrix(1.1460 0 0 1.020 814.97 589.50)" font-size="23" font-family='"Liberation Sans", sans-serif'>0</text>
<text transform="matrix(1.2186 0 0 1.020 791.01 544.45)" font-size="23" font-family='"Liberation Sans", sans-serif'>0.1</text>
<text transform="matrix(1.2200 0 0 1.020 791.00 499.40)" font-size="23" font-family='"Liberation Sans", sans-serif'>0.2</text>
<text transform="matrix(1.2141 0 0 1.020 791.01 454.35)" font-size="23" font-family='"Liberation Sans", sans-serif'>0.3</text>
<text transform="matrix(1.2006 0 0 1.020 791.02 409.30)" font-size="23" font-family='"Liberation Sans", sans-serif'>0.4</text>
<text transform="matrix(1.1516 0 0 1.040 1162.37 426.10)" font-size="23" font-family='"Liberation Sans", sans-serif'>chiN</text>
<text transform="matrix(1.3603 0 0 1.000 1223.47 426.10)" font-size="23" font-family='"Liberation Sans", sans-serif'>=</text>
<text transform="matrix(1.1859 0 0 1.020 1249.56 426.10)" font-size="23" font-family='"Liberation Sans", sans-serif'>34</text>
<line x1="1296.9" y1="419.5" x2="1372.1" y2="419.5" stroke="#ff0000" stroke-width="4"/>
<text transform="matrix(1.1516 0 0 1.040 1162.37 452.80)" font-size="23" font-family='"Liberation Sans", sans-serif'>chiN</text>
<text transform="matrix(1.3603 0 0 1.000 1223.47 452.80)" font-size="23" font-family='"Liberation Sans", sans-serif'>=</text>
<text transform="matrix(1.2027 0 0 1.020 1249.55 452.80)" font-size="23" font-family='"Liberation Sans", sans-serif'>36</text>
<line x1="1296.9" y1="446.2" x2="1372.1" y2="446.2" stroke="#00c000" stroke-width="4"/>
<text transform="matrix(1.1516 0 0 1.040 1162.37 479.50)" font-size="23" font-family='"Liberation Sans", sans-serif'>chiN</text>
<text transform="matrix(1.3603 0 0 1.000 1223.47 479.50)" font-size="23" font-family='"Liberation Sans", sans-serif'>=</text>
<text transform="matrix(1.2022 0 0 1.020 1249.55 479.50)" font-size="23" font-family='"Liberation Sans", sans-serif'>38</text>
<line x1="1296.9" y1="472.9" x2="1372.1" y2="472.9" stroke="#0080ff" stroke-width="4"/>
<text transform="matrix(1.1516 0 0 1.040 1162.37 506.20)" font-size="23" font-family='"Liberation Sans", sans-serif'>chiN</text>
<text transform="matrix(1.3603 0 0 1.000 1223.47 506.20)" font-size="23" font-family='"Liberation Sans", sans-serif'>=</text>
<text transform="matrix(1.1798 0 0 1.020 1249.98 506.20)" font-size="23" font-family='"Liberation Sans", sans-serif'>40</text>
<line x1="1296.9" y1="499.6" x2="1372.1" y2="499.6" stroke="#c000ff" stroke-width="4"/>
<path d="M168.0,1031.8 L169.5,1028.5 L171.0,1024.2 L172.7,1025.1 L174.3,1023.6 L176.0,1020.9 L177.5,1020.2 L179.0,1017.6 L180.5,1016.4 L182.0,1015.4 L183.5,1013.8 L185.0,1009.6 L186.5,1009.2 L188.0,1003.7 L189.6,1002.1 L191.2,999.8 L192.8,999.8 L194.4,996.6 L196.0,994.9 L198.0,995.7 L200.0,997.9 L201.9,991.3 L203.8,984.7 L205.4,989.1 L206.9,992.4 L208.5,995.5 L210.0,1001.3 L211.6,1004.5 L213.1,1006.5 L214.6,1009.1 L216.0,1009.7 L217.5,1011.6 L219.0,1012.8 L220.4,1013.7 L221.9,1015.5 L223.4,1014.5 L225.4,1020.9 L227.4,1026.1 L229.0,1026.1 L230.6,1025.9 L232.1,1027.6 L233.7,1026.8 L235.3,1028.0 L236.9,1028.3 L238.4,1028.5 L240.0,1028.8 L241.6,1029.0 L243.2,1029.3 L244.7,1029.5 L246.3,1029.8 L247.9,1030.0 L249.5,1030.3 L251.0,1030.5 L252.6,1030.8 L254.2,1031.0 L255.8,1031.3" fill="none" stroke="#ff0000" stroke-width="4.6" stroke-linejoin="round" stroke-linecap="round"/>
<path d="M281.6,1031.2 L283.1,1030.6 L284.6,1030.0 L286.2,1029.4 L287.8,1028.4 L289.3,1028.4 L290.8,1027.1 L292.4,1027.4 L294.0,1026.6 L295.7,1025.6 L297.3,1025.5 L298.9,1024.8 L300.6,1022.8 L302.2,1023.6 L303.8,1023.3 L305.5,1022.4 L307.1,1022.9 L308.7,1021.9 L310.4,1020.2 L312.0,1019.2 L313.7,1017.0 L315.3,1017.1 L317.0,1014.8 L318.7,1013.5 L320.4,1012.0 L322.2,1011.2 L323.9,1009.4 L325.5,1010.3 L327.0,1009.1 L328.6,1010.6 L330.1,1010.6 L331.7,1010.7 L333.2,1007.5 L334.7,1005.1 L336.2,1006.8 L337.6,1008.8 L339.1,1009.3 L340.6,1011.0 L342.0,1011.0 L343.5,1011.9 L345.1,1013.9 L346.7,1012.1 L348.4,1012.7 L350.0,1014.2 L351.6,1014.8 L353.2,1014.7 L354.8,1015.5 L356.4,1015.6 L358.1,1016.7 L359.7,1017.8 L361.3,1018.1 L362.9,1018.2 L364.6,1018.3 L366.2,1020.4 L367.9,1019.6 L369.5,1020.8 L371.1,1022.2 L372.8,1022.3 L374.4,1022.0 L376.1,1023.8 L377.7,1024.0 L379.4,1025.5 L381.0,1025.3 L382.6,1026.2 L384.3,1028.1 L385.9,1028.4 L387.5,1029.5 L389.2,1030.7 L390.8,1031.8" fill="none" stroke="#00c000" stroke-width="4.6" stroke-linejoin="round" stroke-linecap="round"/>
<path d="M124.8,1031.8 L400.0,1031.8 L401.5,1031.5 L403.0,1031.1 L404.5,1030.8 L406.0,1030.4 L407.5,1030.1 L409.0,1029.8 L410.5,1029.4 L412.0,1029.6 L413.6,1028.8 L415.3,1028.8 L416.9,1028.6 L418.5,1027.6 L420.2,1027.1 L421.8,1027.6 L423.5,1026.5 L425.1,1026.7 L426.7,1027.4 L428.4,1027.1 L430.0,1025.3 L431.7,1024.2 L433.3,1023.7 L435.0,1024.6 L436.7,1021.3 L438.3,1021.1 L440.0,1019.9 L441.5,1019.1 L443.0,1019.5 L444.6,1017.7 L446.1,1017.5 L447.6,1017.6 L449.1,1016.8 L450.7,1015.5 L452.4,1016.2 L454.0,1015.2 L455.6,1015.6 L457.2,1013.5 L458.9,1013.5 L460.5,1013.7 L462.1,1014.4 L463.6,1014.5 L465.1,1015.0 L466.7,1015.4 L468.2,1016.4 L469.7,1015.2 L471.2,1016.6 L472.7,1015.3 L474.2,1014.3 L475.8,1013.0 L477.3,1013.3 L478.9,1011.8 L480.4,1012.2 L482.0,1010.9 L483.5,1011.5 L485.1,1010.8 L486.6,1010.1 L488.2,1012.4 L489.9,1011.4 L491.5,1015.0 L493.2,1016.2 L494.9,1015.9 L496.5,1018.6 L498.2,1021.6 L499.7,1021.3 L501.2,1019.8 L502.7,1020.2 L504.2,1019.7 L505.8,1019.3 L507.4,1020.8 L509.0,1021.8 L510.6,1022.0 L512.2,1024.1 L513.7,1023.3 L515.2,1024.6 L516.7,1023.0 L518.2,1024.5 L519.8,1023.8 L521.3,1025.7 L522.8,1026.6 L524.3,1026.2 L525.9,1026.4 L527.5,1026.7 L529.1,1026.2 L530.7,1026.7 L532.3,1027.2 L533.9,1027.5 L535.5,1027.3 L537.1,1027.7 L538.7,1027.7 L540.3,1028.1 L541.9,1028.4 L543.6,1028.7 L545.2,1029.0 L546.9,1029.3 L548.5,1029.6 L550.1,1029.9 L551.8,1030.3 L553.4,1030.6 L555.1,1030.9 L556.7,1031.2 L558.4,1031.5 L560.0,1031.8 L679.2,1031.8" fill="none" stroke="#0080ff" stroke-width="4.6" stroke-linejoin="round" stroke-linecap="round"/>
<path d="M263.1,1031.8 L516.3,1031.8 L517.9,1031.8 L519.5,1031.8 L521.0,1031.8 L522.6,1031.8 L524.2,1031.8 L525.8,1031.8 L527.4,1031.8 L528.9,1031.8 L530.5,1031.8 L532.1,1031.8 L533.7,1031.8 L535.3,1031.8 L536.8,1031.8 L538.4,1031.8 L540.0,1031.8 L541.6,1031.3 L543.3,1030.9 L544.9,1030.4 L546.5,1029.9 L548.1,1029.4 L549.8,1029.5 L551.4,1029.0 L553.0,1028.4 L554.7,1027.1 L556.3,1026.8 L557.9,1026.9 L559.4,1026.5 L561.0,1023.9 L562.6,1023.5 L564.1,1025.0 L565.7,1022.0 L567.3,1022.9 L568.8,1021.3 L570.4,1021.5 L572.0,1022.5 L573.5,1022.0 L575.1,1021.8 L576.6,1021.9 L578.2,1023.1 L579.7,1023.5 L581.3,1023.2 L582.8,1023.7 L584.4,1024.2 L586.4,1018.9 L588.4,1014.1 L590.4,1017.3 L592.4,1017.9 L594.1,1018.7 L595.7,1018.7 L597.4,1018.1 L599.1,1015.7 L600.7,1015.5 L602.4,1016.4 L603.8,1015.8 L605.1,1019.0 L606.5,1017.8 L608.2,1019.3 L609.8,1016.5 L611.5,1017.9 L613.2,1017.9 L614.8,1016.7 L616.5,1016.5 L618.0,1017.8 L619.5,1018.6 L621.0,1016.6 L622.5,1018.2 L624.0,1017.2 L625.5,1018.7 L627.0,1018.5 L628.5,1019.1 L630.0,1020.1 L631.5,1018.2 L633.0,1018.1 L634.5,1017.3 L636.0,1019.4 L637.5,1017.3 L639.2,1017.8 L641.0,1020.5 L642.8,1021.8 L644.5,1022.5 L646.1,1022.6 L647.7,1023.0 L649.3,1024.0 L650.9,1023.1 L652.5,1025.1 L654.2,1025.0 L655.8,1025.8 L657.4,1026.3 L659.0,1026.5 L660.6,1026.1 L662.2,1026.4 L663.9,1027.1 L665.5,1027.1 L667.1,1026.4 L668.8,1028.1 L670.4,1027.3 L672.1,1028.0 L673.7,1028.2 L675.3,1028.1 L677.0,1028.9 L678.6,1029.1 L680.4,1029.3" fill="none" stroke="#c000ff" stroke-width="4.6" stroke-linejoin="round" stroke-linecap="round"/>
<path d="M124.8,1033.4V851.9H679.2V1033.4" fill="none" stroke="#505050" stroke-width="1.8" stroke-linejoin="round"/>
<line x1="124.0" y1="1032.55" x2="680.0" y2="1032.55" stroke="#000" stroke-opacity="0.82" stroke-width="1.6"/>
<path d="M124.8,1031.8v-4.5M124.8,851.9v4.5M194.1,1031.8v-4.5M194.1,851.9v4.5M263.4,1031.8v-4.5M263.4,851.9v4.5M332.7,1031.8v-4.5M332.7,851.9v4.5M402.0,1031.8v-4.5M402.0,851.9v4.5M471.3,1031.8v-4.5M471.3,851.9v4.5M540.6,1031.8v-4.5M540.6,851.9v4.5M609.9,1031.8v-4.5M609.9,851.9v4.5M679.2,1031.8v-4.5M679.2,851.9v4.5M124.8,1031.8h4.5M679.2,1031.8h-4.5M124.8,941.8h4.5M679.2,941.8h-4.5M124.8,851.9h4.5M679.2,851.9h-4.5" stroke="#505050" stroke-width="1.4" fill="none"/>
<text transform="matrix(1.1892 0 0 1.020 110.67 1065.05)" font-size="23" font-family='"Liberation Sans", sans-serif'>25</text>
<text transform="matrix(1.1915 0 0 1.020 179.97 1065.05)" font-size="23" font-family='"Liberation Sans", sans-serif'>26</text>
<text transform="matrix(1.1990 0 0 1.020 249.26 1065.05)" font-size="23" font-family='"Liberation Sans", sans-serif'>27</text>
<text transform="matrix(1.1909 0 0 1.020 318.57 1065.05)" font-size="23" font-family='"Liberation Sans", sans-serif'>28</text>
<text transform="matrix(1.1955 0 0 1.020 387.87 1065.05)" font-size="23" font-family='"Liberation Sans", sans-serif'>29</text>
<text transform="matrix(1.1718 0 0 1.020 457.52 1065.05)" font-size="23" font-family='"Liberation Sans", sans-serif'>30</text>
<text transform="matrix(1.1830 0 0 1.020 526.81 1065.05)" font-size="23" font-family='"Liberation Sans", sans-serif'>31</text>
<text transform="matrix(1.1847 0 0 1.020 596.11 1065.05)" font-size="23" font-family='"Liberation Sans", sans-serif'>32</text>
<text transform="matrix(1.1774 0 0 1.020 665.42 1065.05)" font-size="23" font-family='"Liberation Sans", sans-serif'>33</text>
<text transform="matrix(1.1460 0 0 1.020 89.87 1038.15)" font-size="23" font-family='"Liberation Sans", sans-serif'>0</text>
<text transform="matrix(1.2200 0 0 1.020 65.90 948.20)" font-size="23" font-family='"Liberation Sans", sans-serif'>0.2</text>
<text transform="matrix(1.2006 0 0 1.020 65.92 858.25)" font-size="23" font-family='"Liberation Sans", sans-serif'>0.4</text>
<text transform="matrix(1.1516 0 0 1.040 437.27 875.80)" font-size="23" font-family='"Liberation Sans", sans-serif'>chiN</text>
<text transform="matrix(1.3603 0 0 1.000 498.37 875.80)" font-size="23" font-family='"Liberation Sans", sans-serif'>=</text>
<text transform="matrix(1.2171 0 0 1.020 524.09 875.80)" font-size="23" font-family='"Liberation Sans", sans-serif'>26</text>
<line x1="571.8" y1="869.2" x2="647.0" y2="869.2" stroke="#ff0000" stroke-width="4"/>
<text transform="matrix(1.1516 0 0 1.040 437.27 902.50)" font-size="23" font-family='"Liberation Sans", sans-serif'>chiN</text>
<text transform="matrix(1.3603 0 0 1.000 498.37 902.50)" font-size="23" font-family='"Liberation Sans", sans-serif'>=</text>
<text transform="matrix(1.2166 0 0 1.020 524.09 902.50)" font-size="23" font-family='"Liberation Sans", sans-serif'>28</text>
<line x1="571.8" y1="895.9" x2="647.0" y2="895.9" stroke="#00c000" stroke-width="4"/>
<text transform="matrix(1.1516 0 0 1.040 437.27 929.20)" font-size="23" font-family='"Liberation Sans", sans-serif'>chiN</text>
<text transform="matrix(1.3603 0 0 1.000 498.37 929.20)" font-size="23" font-family='"Liberation Sans", sans-serif'>=</text>
<text transform="matrix(1.1970 0 0 1.020 524.45 929.20)" font-size="23" font-family='"Liberation Sans", sans-serif'>30</text>
<line x1="571.8" y1="922.6" x2="647.0" y2="922.6" stroke="#0080ff" stroke-width="4"/>
<text transform="matrix(1.1516 0 0 1.040 437.27 955.90)" font-size="23" font-family='"Liberation Sans", sans-serif'>chiN</text>
<text transform="matrix(1.3603 0 0 1.000 498.37 955.90)" font-size="23" font-family='"Liberation Sans", sans-serif'>=</text>
<text transform="matrix(1.2102 0 0 1.020 524.44 955.90)" font-size="23" font-family='"Liberation Sans", sans-serif'>32</text>
<line x1="571.8" y1="949.3" x2="647.0" y2="949.3" stroke="#c000ff" stroke-width="4"/>
<path d="M124.8,1339.1 L125.0,1332.0 L126.5,1332.5 L128.0,1334.2 L129.6,1331.9 L131.1,1332.9 L132.7,1333.1 L134.2,1330.0 L135.8,1331.2 L137.4,1328.9 L138.9,1327.7 L140.5,1327.8 L142.0,1328.9 L143.6,1325.9 L145.3,1327.1 L147.0,1325.0 L148.7,1323.4 L150.3,1323.6 L152.0,1322.6 L153.7,1322.1 L155.4,1322.9 L157.1,1321.9 L158.7,1318.0 L160.4,1319.9 L162.0,1317.2 L163.7,1317.5 L165.3,1315.8 L167.0,1313.6 L168.8,1311.5 L170.5,1313.2 L172.2,1312.5 L173.7,1310.9 L175.3,1308.7 L176.8,1311.4 L178.4,1311.0 L179.9,1311.4 L181.5,1311.6 L183.0,1311.5 L184.6,1312.0 L186.3,1312.1 L187.9,1314.1 L189.5,1315.5 L191.2,1318.0 L192.8,1318.9 L194.5,1318.9 L196.1,1316.8 L197.8,1316.3 L199.4,1317.0 L201.0,1315.5 L202.7,1315.2 L204.2,1314.2 L205.8,1311.8 L207.3,1312.8 L208.8,1312.2 L210.4,1312.0 L211.9,1311.3 L213.4,1311.2 L215.0,1312.5 L216.5,1313.6 L218.2,1315.0 L219.9,1316.3 L221.6,1315.8 L223.2,1314.5 L224.9,1316.2 L226.6,1316.6 L228.3,1320.9 L230.2,1321.1 L232.2,1325.2 L233.8,1323.8 L235.4,1324.1 L236.9,1324.8 L238.5,1323.8 L240.1,1321.1 L241.7,1323.1 L243.3,1321.7 L244.8,1323.9 L246.4,1320.8 L248.0,1320.4 L249.6,1324.1 L251.3,1323.0 L252.9,1322.7 L254.5,1326.5 L256.2,1328.0 L257.8,1327.3 L259.4,1326.7 L261.0,1330.3 L262.5,1329.0 L264.1,1329.4 L265.7,1329.4 L267.3,1333.4 L269.0,1332.0 L270.6,1332.6 L272.2,1334.2 L273.9,1335.7 L275.5,1336.8 L277.0,1335.6 L278.6,1336.1 L280.1,1335.4 L281.6,1336.3 L283.2,1335.6 L284.7,1335.8 L286.2,1336.0 L287.8,1335.4 L289.3,1335.2 L290.9,1335.4 L292.5,1335.7 L294.2,1335.9 L295.8,1336.1 L297.4,1336.3 L299.0,1336.6 L300.7,1336.8 L302.3,1337.0 L303.9,1337.3 L305.5,1337.5 L307.2,1337.7 L308.8,1338.0 L310.4,1338.2 L312.0,1338.4 L313.7,1338.6" fill="none" stroke="#ff0000" stroke-width="4.6" stroke-linejoin="round" stroke-linecap="round"/>
<path d="M248.0,1339.1 L249.6,1338.3 L251.3,1337.5 L252.9,1336.7 L254.5,1336.2 L256.2,1335.8 L257.8,1333.0 L259.3,1334.9 L260.9,1334.2 L262.4,1331.5 L263.9,1333.4 L265.5,1333.1 L267.0,1330.4 L268.5,1333.0 L270.1,1330.1 L271.6,1330.0 L273.2,1329.6 L274.8,1328.6 L276.3,1327.6 L277.9,1324.6 L279.5,1324.2 L281.0,1323.1 L282.6,1323.8 L284.1,1324.9 L285.6,1323.5 L287.2,1324.8 L288.7,1326.9 L290.2,1324.6 L291.8,1325.8 L293.3,1324.4 L294.9,1326.3 L296.4,1322.7 L298.0,1322.1 L299.5,1323.4 L301.1,1321.2 L302.7,1322.0 L304.3,1322.6 L305.8,1322.5 L307.4,1322.6 L309.0,1321.9 L310.7,1320.8 L312.4,1319.9 L314.1,1318.9 L315.7,1318.1 L317.4,1319.3 L319.1,1315.5 L320.8,1314.0 L322.4,1315.2 L324.0,1315.2 L325.5,1318.6 L327.1,1319.6 L328.7,1319.5 L330.3,1319.4 L332.0,1317.0 L333.6,1315.8 L335.2,1314.7 L336.9,1314.9 L338.5,1312.5 L340.1,1314.2 L341.8,1314.4 L343.4,1316.1 L345.1,1317.6 L346.8,1317.4 L348.4,1316.0 L350.1,1318.1 L351.8,1318.9 L353.5,1318.4 L355.1,1316.8 L356.8,1317.2 L358.5,1319.3 L360.2,1320.3 L361.7,1319.5 L363.3,1320.5 L364.8,1319.9 L366.3,1321.1 L367.9,1318.8 L369.4,1321.4 L370.9,1321.2 L372.5,1318.7 L374.0,1319.3 L375.7,1320.7 L377.4,1323.8 L379.1,1324.3 L380.7,1323.2 L382.4,1327.0 L384.1,1326.4 L385.8,1329.8 L387.2,1327.3 L388.6,1326.4 L390.0,1327.2 L391.6,1327.5 L393.1,1327.1 L394.7,1327.3 L396.3,1325.3 L397.9,1326.6 L399.5,1326.3 L401.1,1330.7 L402.6,1329.3 L404.2,1329.1 L405.8,1329.2 L407.4,1331.6 L409.0,1330.0 L410.6,1331.2 L412.1,1333.5 L413.7,1333.7 L415.3,1334.7 L417.0,1334.7 L418.7,1332.9 L420.4,1333.8 L422.1,1333.5 L423.8,1333.2 L425.5,1332.6 L427.2,1333.8 L428.8,1332.0 L430.5,1333.0 L432.2,1334.4 L433.7,1334.5 L435.2,1334.9 L436.7,1334.7 L438.2,1334.1 L439.7,1334.9 L441.2,1334.9 L442.7,1335.7 L444.3,1335.9 L445.9,1336.1 L447.6,1336.3 L449.2,1336.5 L450.8,1336.7 L452.4,1336.9 L454.0,1337.1 L455.6,1337.3 L457.3,1337.5 L458.9,1337.7 L460.5,1337.9 L462.1,1338.1 L463.7,1338.3 L465.3,1338.5" fill="none" stroke="#00c000" stroke-width="4.6" stroke-linejoin="round" stroke-linecap="round"/>
<path d="M124.8,1339.1 L356.0,1339.1 L357.6,1338.9 L359.2,1338.8 L360.8,1338.6 L362.4,1338.4 L364.0,1338.2 L365.6,1338.1 L367.2,1337.9 L368.8,1337.7 L370.4,1337.5 L372.0,1337.4 L373.6,1337.2 L375.2,1337.0 L376.8,1336.8 L378.4,1336.7 L380.0,1336.2 L381.7,1336.4 L383.3,1336.8 L385.0,1336.2 L386.7,1335.7 L388.3,1335.2 L390.0,1334.6 L391.6,1335.2 L393.3,1333.3 L394.9,1330.1 L396.6,1330.0 L398.2,1329.1 L399.9,1328.5 L401.5,1324.5 L403.2,1323.3 L404.8,1321.3 L406.4,1324.3 L408.0,1326.9 L409.5,1327.5 L411.1,1326.5 L412.6,1325.7 L414.1,1322.9 L415.6,1321.6 L417.1,1321.2 L418.6,1318.2 L420.1,1317.0 L421.6,1315.3 L423.0,1317.8 L424.5,1321.3 L425.9,1320.5 L427.5,1320.5 L429.0,1318.0 L430.6,1316.0 L432.2,1314.4 L433.8,1316.0 L435.5,1315.9 L437.1,1315.1 L438.8,1315.4 L440.4,1314.4 L442.1,1312.3 L443.7,1311.7 L445.4,1312.7 L447.0,1312.5 L448.6,1315.3 L450.1,1317.9 L451.7,1319.6 L453.3,1322.4 L454.7,1319.8 L456.1,1318.4 L457.5,1317.5 L459.1,1314.7 L460.7,1314.3 L462.2,1313.1 L463.8,1310.0 L465.4,1307.8 L467.0,1306.3 L468.4,1309.7 L469.8,1312.0 L471.2,1314.2 L472.8,1311.7 L474.4,1311.0 L475.9,1311.2 L477.4,1312.6 L478.9,1313.2 L480.4,1309.8 L481.9,1311.8 L483.4,1313.6 L484.9,1313.2 L486.6,1314.9 L488.3,1314.7 L490.0,1316.5 L491.7,1319.7 L493.4,1320.2 L495.1,1321.4 L496.8,1322.0 L498.4,1322.4 L500.1,1322.6 L501.8,1323.3 L503.4,1324.5 L505.0,1326.0 L506.5,1325.2 L508.1,1326.5 L509.8,1327.3 L511.5,1329.2 L513.2,1330.7 L514.9,1330.1 L516.6,1329.7 L518.2,1328.1 L519.8,1328.0 L521.3,1327.5 L522.9,1327.6 L524.6,1328.3 L526.3,1331.1 L528.0,1332.2 L529.7,1335.2 L531.4,1334.6 L532.9,1334.7 L534.4,1336.3 L535.9,1336.4 L537.4,1335.9 L538.9,1336.1 L540.4,1335.9 L541.9,1336.3 L543.5,1336.6 L545.1,1337.0 L546.7,1337.3 L548.2,1337.7 L549.8,1338.0 L551.4,1338.4 L553.0,1338.8 L554.6,1339.1 L679.2,1339.1" fill="none" stroke="#0080ff" stroke-width="4.6" stroke-linejoin="round" stroke-linecap="round"/>
<path d="M263.1,1339.1 L474.4,1339.1 L476.0,1339.1 L477.6,1339.1 L479.2,1339.1 L480.8,1339.1 L482.4,1339.1 L484.0,1339.1 L485.6,1339.1 L487.2,1339.1 L488.8,1339.1 L490.4,1339.1 L492.0,1339.1 L493.6,1339.1 L495.2,1339.1 L496.8,1339.1 L498.4,1339.1 L500.0,1339.1 L501.6,1339.1 L503.2,1339.1 L504.8,1339.1 L506.4,1339.1 L508.0,1339.1 L509.6,1339.1 L511.2,1339.1 L512.8,1339.1 L514.4,1339.1 L516.0,1339.1 L517.6,1339.1 L519.2,1339.1 L520.8,1339.1 L522.5,1338.1 L524.2,1337.1 L525.8,1335.6 L527.5,1335.8 L529.2,1335.1 L530.8,1334.6 L532.4,1335.0 L534.0,1335.6 L535.5,1336.7 L537.1,1337.3 L538.7,1337.9 L540.3,1338.5 L541.9,1339.1 L543.4,1338.3 L544.9,1337.4 L546.4,1336.0 L547.9,1335.2 L549.4,1334.3 L550.9,1334.9 L552.4,1332.3 L554.1,1331.8 L555.8,1333.8 L557.5,1333.4 L559.2,1330.0 L560.9,1330.4 L562.4,1332.0 L563.9,1328.5 L565.4,1328.4 L566.9,1327.6 L568.4,1326.4 L569.9,1323.0 L571.4,1324.6 L572.8,1322.5 L574.3,1318.6 L575.7,1315.7 L577.4,1318.3 L579.2,1320.4 L580.9,1321.3 L582.7,1315.1 L584.4,1314.2 L586.2,1310.0 L587.9,1312.6 L589.6,1313.1 L591.2,1311.8 L592.9,1314.1 L594.6,1314.6 L596.4,1304.9 L598.1,1299.4 L599.9,1294.9 L601.5,1296.8 L603.1,1302.4 L604.7,1301.2 L606.3,1298.1 L607.9,1297.9 L609.4,1293.6 L611.0,1293.3 L612.6,1291.2 L614.1,1291.4 L615.6,1296.8 L617.0,1299.1 L618.5,1301.7 L620.0,1301.4 L621.6,1303.5 L623.1,1302.8 L624.7,1305.9 L626.3,1306.3 L627.7,1305.6 L629.1,1300.8 L630.5,1299.5 L631.9,1303.0 L633.3,1310.6 L634.7,1313.7 L636.4,1313.1 L638.1,1317.0 L639.8,1317.3 L641.5,1318.6 L643.2,1321.6 L644.7,1322.9 L646.2,1323.5 L647.7,1324.2 L649.2,1326.1 L650.7,1327.6 L652.2,1328.3 L653.7,1329.8 L655.2,1332.4 L656.7,1334.7 L658.2,1334.7 L659.8,1335.5 L661.3,1336.8 L662.8,1338.0 L664.3,1339.1 L665.9,1339.1 L667.6,1339.1 L669.2,1339.1 L670.8,1339.1 L672.5,1339.1 L674.1,1339.1 L675.7,1339.1 L677.4,1339.1 L679.0,1339.1 L680.4,1339.1" fill="none" stroke="#c000ff" stroke-width="4.6" stroke-linejoin="round" stroke-linecap="round"/>
<path d="M124.8,1340.7V1159.7H679.2V1340.7" fill="none" stroke="#505050" stroke-width="1.8" stroke-linejoin="round"/>
<line x1="124.0" y1="1339.85" x2="680.0" y2="1339.85" stroke="#000" stroke-opacity="0.82" stroke-width="1.6"/>
<path d="M124.8,1339.1v-4.5M124.8,1159.7v4.5M194.1,1339.1v-4.5M194.1,1159.7v4.5M263.4,1339.1v-4.5M263.4,1159.7v4.5M332.7,1339.1v-4.5M332.7,1159.7v4.5M402.0,1339.1v-4.5M402.0,1159.7v4.5M471.3,1339.1v-4.5M471.3,1159.7v4.5M540.6,1339.1v-4.5M540.6,1159.7v4.5M609.9,1339.1v-4.5M609.9,1159.7v4.5M679.2,1339.1v-4.5M679.2,1159.7v4.5M124.8,1339.1h4.5M679.2,1339.1h-4.5M124.8,1249.4h4.5M679.2,1249.4h-4.5M124.8,1159.7h4.5M679.2,1159.7h-4.5" stroke="#505050" stroke-width="1.4" fill="none"/>
<text transform="matrix(1.1774 0 0 1.020 111.02 1372.80)" font-size="23" font-family='"Liberation Sans", sans-serif'>33</text>
<text transform="matrix(1.1609 0 0 1.020 180.33 1372.80)" font-size="23" font-family='"Liberation Sans", sans-serif'>34</text>
<text transform="matrix(1.1752 0 0 1.020 249.62 1372.80)" font-size="23" font-family='"Liberation Sans", sans-serif'>35</text>
<text transform="matrix(1.1774 0 0 1.020 318.92 1372.80)" font-size="23" font-family='"Liberation Sans", sans-serif'>36</text>
<text transform="matrix(1.1847 0 0 1.020 388.21 1372.80)" font-size="23" font-family='"Liberation Sans", sans-serif'>37</text>
<text transform="matrix(1.1768 0 0 1.020 457.52 1372.80)" font-size="23" font-family='"Liberation Sans", sans-serif'>38</text>
<text transform="matrix(1.1813 0 0 1.020 526.82 1372.80)" font-size="23" font-family='"Liberation Sans", sans-serif'>39</text>
<text transform="matrix(1.1550 0 0 1.020 596.54 1372.80)" font-size="23" font-family='"Liberation Sans", sans-serif'>40</text>
<text transform="matrix(1.1658 0 0 1.020 665.83 1372.80)" font-size="23" font-family='"Liberation Sans", sans-serif'>41</text>
<text transform="matrix(1.1460 0 0 1.020 89.87 1346.20)" font-size="23" font-family='"Liberation Sans", sans-serif'>0</text>
<text transform="matrix(1.2186 0 0 1.020 65.91 1256.50)" font-size="23" font-family='"Liberation Sans", sans-serif'>0.1</text>
<text transform="matrix(1.2200 0 0 1.020 65.90 1166.80)" font-size="23" font-family='"Liberation Sans", sans-serif'>0.2</text>
<text transform="matrix(1.1516 0 0 1.040 437.27 1183.60)" font-size="23" font-family='"Liberation Sans", sans-serif'>chiN</text>
<text transform="matrix(1.3603 0 0 1.000 498.37 1183.60)" font-size="23" font-family='"Liberation Sans", sans-serif'>=</text>
<text transform="matrix(1.1859 0 0 1.020 524.46 1183.60)" font-size="23" font-family='"Liberation Sans", sans-serif'>34</text>
<line x1="571.8" y1="1177.0" x2="647.0" y2="1177.0" stroke="#ff0000" stroke-width="4"/>
<text transform="matrix(1.1516 0 0 1.040 437.27 1210.30)" font-size="23" font-family='"Liberation Sans", sans-serif'>chiN</text>
<text transform="matrix(1.3603 0 0 1.000 498.37 1210.30)" font-size="23" font-family='"Liberation Sans", sans-serif'>=</text>
<text transform="matrix(1.2027 0 0 1.020 524.45 1210.30)" font-size="23" font-family='"Liberation Sans", sans-serif'>36</text>
<line x1="571.8" y1="1203.7" x2="647.0" y2="1203.7" stroke="#00c000" stroke-width="4"/>
<text transform="matrix(1.1516 0 0 1.040 437.27 1237.00)" font-size="23" font-family='"Liberation Sans", sans-serif'>chiN</text>
<text transform="matrix(1.3603 0 0 1.000 498.37 1237.00)" font-size="23" font-family='"Liberation Sans", sans-serif'>=</text>
<text transform="matrix(1.2022 0 0 1.020 524.45 1237.00)" font-size="23" font-family='"Liberation Sans", sans-serif'>38</text>
<line x1="571.8" y1="1230.4" x2="647.0" y2="1230.4" stroke="#0080ff" stroke-width="4"/>
<text transform="matrix(1.1516 0 0 1.040 437.27 1263.70)" font-size="23" font-family='"Liberation Sans", sans-serif'>chiN</text>
<text transform="matrix(1.3603 0 0 1.000 498.37 1263.70)" font-size="23" font-family='"Liberation Sans", sans-serif'>=</text>
<text transform="matrix(1.1798 0 0 1.020 524.88 1263.70)" font-size="23" font-family='"Liberation Sans", sans-serif'>40</text>
<line x1="571.8" y1="1257.1" x2="647.0" y2="1257.1" stroke="#c000ff" stroke-width="4"/>
<path d="M882.1,1030.6 L883.8,1030.1 L885.4,1029.7 L887.1,1029.3 L888.7,1028.8 L890.4,1028.4 L892.0,1028.0 L893.7,1027.5 L895.3,1026.8 L896.9,1025.9 L898.6,1024.9 L900.2,1022.6 L901.8,1022.5 L903.5,1022.7 L905.1,1020.4 L907.1,1009.5 L908.7,1007.5 L910.3,1003.7 L911.8,1000.4 L913.4,999.4 L915.0,994.6 L916.5,995.5 L918.0,994.3 L919.4,992.1 L920.9,990.7 L922.8,990.9 L924.8,992.7 L926.8,992.0 L928.8,989.4 L930.3,992.3 L931.8,994.0 L933.2,999.0 L934.7,1003.0 L936.2,1003.4 L937.7,1003.5 L939.1,1003.6 L940.6,1004.3 L942.2,1006.0 L943.7,1008.2 L945.3,1013.6 L946.8,1014.4 L948.4,1017.0 L950.0,1019.1 L951.7,1022.3 L953.3,1023.9 L955.0,1025.0 L956.6,1026.8 L958.3,1028.1 L960.0,1028.5 L961.7,1028.9 L963.4,1029.3 L965.0,1029.8 L966.7,1030.2 L968.4,1030.6" fill="none" stroke="#ff0000" stroke-width="4.6" stroke-linejoin="round" stroke-linecap="round"/>
<path d="M1013.0,1030.6 L1014.6,1030.1 L1016.3,1029.7 L1017.9,1029.2 L1019.5,1028.8 L1021.1,1028.8 L1022.7,1027.8 L1024.3,1027.9 L1026.0,1026.6 L1027.6,1026.5 L1029.2,1025.7 L1030.7,1024.7 L1032.2,1021.9 L1033.6,1021.4 L1035.1,1019.6 L1036.7,1017.4 L1038.2,1018.4 L1039.8,1017.3 L1041.3,1013.6 L1042.9,1013.7 L1044.9,1014.9 L1046.9,1016.1 L1048.4,1014.3 L1049.8,1012.3 L1051.3,1009.0 L1052.8,1007.0 L1054.5,1005.5 L1056.2,1005.0 L1058.0,1002.8 L1059.7,1000.4 L1061.2,1000.7 L1062.8,1003.3 L1064.3,1004.8 L1065.9,1005.8 L1067.4,1005.0 L1069.0,1006.9 L1070.5,1007.6 L1072.1,1008.8 L1073.7,1010.6 L1075.2,1010.2 L1076.8,1010.2 L1078.4,1010.3 L1080.0,1010.9 L1081.6,1013.5 L1083.1,1014.5 L1084.7,1014.9 L1086.3,1012.8 L1087.9,1015.3 L1089.6,1016.5 L1091.2,1019.1 L1092.8,1020.0 L1094.5,1022.5 L1096.1,1024.1 L1097.8,1025.2 L1099.4,1025.5 L1101.0,1026.2 L1102.7,1026.1 L1104.3,1028.0 L1106.0,1028.1 L1107.6,1028.3 L1109.3,1028.6 L1110.9,1028.8 L1112.5,1029.1 L1114.2,1029.3 L1115.8,1029.5 L1117.4,1029.8 L1119.1,1030.0 L1120.7,1030.3 L1122.3,1030.5" fill="none" stroke="#00c000" stroke-width="4.6" stroke-linejoin="round" stroke-linecap="round"/>
<path d="M849.9,1031.0 L1133.0,1031.0 L1134.6,1030.7 L1136.3,1030.5 L1137.9,1030.2 L1139.6,1029.9 L1141.2,1029.7 L1142.9,1029.4 L1144.5,1029.2 L1146.2,1028.9 L1147.8,1028.6 L1149.5,1028.4 L1151.1,1028.5 L1152.8,1027.6 L1154.4,1028.3 L1156.1,1027.6 L1157.8,1027.3 L1159.4,1027.4 L1161.1,1026.6 L1162.6,1025.3 L1164.1,1024.4 L1165.6,1022.6 L1167.1,1022.6 L1168.8,1022.0 L1170.4,1022.1 L1172.1,1021.9 L1173.8,1021.9 L1175.4,1023.6 L1177.1,1024.3 L1178.7,1020.7 L1180.3,1020.0 L1181.9,1016.5 L1183.5,1015.9 L1185.1,1012.3 L1186.7,1013.3 L1188.3,1012.8 L1189.9,1014.2 L1191.5,1013.9 L1193.1,1011.9 L1194.7,1009.4 L1196.2,1008.0 L1197.7,1007.2 L1199.2,1007.3 L1200.7,1009.5 L1202.2,1009.4 L1204.0,1005.4 L1205.7,1004.2 L1207.5,1004.7 L1209.2,1004.4 L1210.7,1006.5 L1212.2,1008.2 L1213.7,1010.6 L1215.2,1012.0 L1216.7,1012.3 L1218.2,1013.7 L1219.7,1011.7 L1221.2,1013.6 L1222.7,1014.0 L1224.2,1012.6 L1225.7,1014.7 L1227.2,1013.1 L1229.2,1018.5 L1231.2,1020.9 L1232.9,1020.5 L1234.6,1021.4 L1236.2,1023.0 L1237.9,1021.7 L1239.6,1021.7 L1241.3,1023.7 L1242.9,1025.0 L1244.5,1023.9 L1246.1,1026.0 L1247.7,1026.1 L1249.3,1027.1 L1250.9,1027.5 L1252.5,1027.9 L1254.1,1028.3 L1255.7,1028.7 L1257.3,1029.0 L1258.9,1029.4 L1260.5,1029.8 L1262.1,1030.2 L1263.7,1030.6 L1265.3,1031.0 L1403.7,1031.0" fill="none" stroke="#0080ff" stroke-width="4.6" stroke-linejoin="round" stroke-linecap="round"/>
<path d="M987.7,1031.0 L1267.3,1031.0 L1268.9,1030.8 L1270.5,1030.6 L1272.0,1030.4 L1273.6,1030.2 L1275.2,1030.0 L1276.8,1029.8 L1278.3,1029.5 L1279.9,1029.3 L1281.5,1029.1 L1283.1,1028.9 L1284.7,1028.7 L1286.2,1028.5 L1287.8,1028.3 L1289.4,1028.1 L1291.0,1028.0 L1292.6,1027.7 L1294.2,1027.5 L1295.8,1027.5 L1297.4,1027.0 L1299.0,1025.7 L1300.6,1025.5 L1302.2,1025.6 L1303.8,1025.2 L1305.4,1026.1 L1307.0,1024.9 L1308.6,1023.4 L1310.2,1022.3 L1311.8,1021.1 L1313.4,1021.4 L1315.0,1021.2 L1316.6,1017.7 L1318.2,1017.4 L1319.8,1015.8 L1321.4,1015.4 L1323.0,1014.0 L1324.6,1013.0 L1326.2,1014.4 L1327.8,1012.9 L1329.4,1013.5 L1331.1,1013.0 L1332.8,1010.7 L1334.5,1010.3 L1336.2,1010.8 L1338.0,1009.3 L1339.8,1010.6 L1341.5,1012.6 L1343.0,1011.5 L1344.5,1009.6 L1346.0,1011.6 L1347.5,1010.5 L1349.1,1010.7 L1350.7,1011.8 L1352.3,1011.5 L1353.9,1013.5 L1355.5,1013.0 L1357.2,1014.4 L1358.8,1015.1 L1360.5,1012.7 L1362.2,1012.7 L1363.8,1013.5 L1365.5,1014.2 L1367.5,1014.6 L1369.5,1017.8 L1371.1,1018.8 L1372.7,1017.9 L1374.3,1018.0 L1375.9,1020.4 L1377.5,1020.5 L1379.2,1021.2 L1380.9,1021.9 L1382.5,1021.4 L1384.2,1023.4 L1385.9,1024.2 L1387.6,1025.1 L1389.2,1025.7 L1390.8,1026.3 L1392.4,1026.9 L1394.0,1027.5 L1395.6,1028.0 L1397.2,1028.6 L1398.8,1029.2 L1400.4,1029.8 L1402.0,1030.4 L1403.6,1031.0 L1403.7,1031.0" fill="none" stroke="#c000ff" stroke-width="4.6" stroke-linejoin="round" stroke-linecap="round"/>
<path d="M849.9,1032.6V850.8H1403.7V1032.6" fill="none" stroke="#505050" stroke-width="1.8" stroke-linejoin="round"/>
<line x1="849.1" y1="1031.75" x2="1404.5" y2="1031.75" stroke="#000" stroke-opacity="0.82" stroke-width="1.6"/>
<path d="M849.9,1031.0v-4.5M849.9,850.8v4.5M919.1,1031.0v-4.5M919.1,850.8v4.5M988.4,1031.0v-4.5M988.4,850.8v4.5M1057.6,1031.0v-4.5M1057.6,850.8v4.5M1126.8,1031.0v-4.5M1126.8,850.8v4.5M1196.0,1031.0v-4.5M1196.0,850.8v4.5M1265.2,1031.0v-4.5M1265.2,850.8v4.5M1334.5,1031.0v-4.5M1334.5,850.8v4.5M1403.7,1031.0v-4.5M1403.7,850.8v4.5M849.9,1031.0h4.5M1403.7,1031.0h-4.5M849.9,940.9h4.5M1403.7,940.9h-4.5M849.9,850.8h4.5M1403.7,850.8h-4.5" stroke="#505050" stroke-width="1.4" fill="none"/>
<text transform="matrix(1.1892 0 0 1.020 835.77 1064.50)" font-size="23" font-family='"Liberation Sans", sans-serif'>25</text>
<text transform="matrix(1.1915 0 0 1.020 905.00 1064.50)" font-size="23" font-family='"Liberation Sans", sans-serif'>26</text>
<text transform="matrix(1.1990 0 0 1.020 974.21 1064.50)" font-size="23" font-family='"Liberation Sans", sans-serif'>27</text>
<text transform="matrix(1.1909 0 0 1.020 1043.45 1064.50)" font-size="23" font-family='"Liberation Sans", sans-serif'>28</text>
<text transform="matrix(1.1955 0 0 1.020 1112.67 1064.50)" font-size="23" font-family='"Liberation Sans", sans-serif'>29</text>
<text transform="matrix(1.1718 0 0 1.020 1182.25 1064.50)" font-size="23" font-family='"Liberation Sans", sans-serif'>30</text>
<text transform="matrix(1.1830 0 0 1.020 1251.46 1064.50)" font-size="23" font-family='"Liberation Sans", sans-serif'>31</text>
<text transform="matrix(1.1847 0 0 1.020 1320.69 1064.50)" font-size="23" font-family='"Liberation Sans", sans-serif'>32</text>
<text transform="matrix(1.1774 0 0 1.020 1389.92 1064.50)" font-size="23" font-family='"Liberation Sans", sans-serif'>33</text>
<text transform="matrix(1.1460 0 0 1.020 814.97 1038.10)" font-size="23" font-family='"Liberation Sans", sans-serif'>0</text>
<text transform="matrix(1.2200 0 0 1.020 791.00 948.00)" font-size="23" font-family='"Liberation Sans", sans-serif'>0.2</text>
<text transform="matrix(1.2006 0 0 1.020 791.02 857.90)" font-size="23" font-family='"Liberation Sans", sans-serif'>0.4</text>
<text transform="matrix(1.1516 0 0 1.040 1162.37 874.70)" font-size="23" font-family='"Liberation Sans", sans-serif'>chiN</text>
<text transform="matrix(1.3603 0 0 1.000 1223.47 874.70)" font-size="23" font-family='"Liberation Sans", sans-serif'>=</text>
<text transform="matrix(1.2171 0 0 1.020 1249.19 874.70)" font-size="23" font-family='"Liberation Sans", sans-serif'>26</text>
<line x1="1296.9" y1="868.1" x2="1372.1" y2="868.1" stroke="#ff0000" stroke-width="4"/>
<text transform="matrix(1.1516 0 0 1.040 1162.37 901.40)" font-size="23" font-family='"Liberation Sans", sans-serif'>chiN</text>
<text transform="matrix(1.3603 0 0 1.000 1223.47 901.40)" font-size="23" font-family='"Liberation Sans", sans-serif'>=</text>
<text transform="matrix(1.2166 0 0 1.020 1249.19 901.40)" font-size="23" font-family='"Liberation Sans", sans-serif'>28</text>
<line x1="1296.9" y1="894.8" x2="1372.1" y2="894.8" stroke="#00c000" stroke-width="4"/>
<text transform="matrix(1.1516 0 0 1.040 1162.37 928.10)" font-size="23" font-family='"Liberation Sans", sans-serif'>chiN</text>
<text transform="matrix(1.3603 0 0 1.000 1223.47 928.10)" font-size="23" font-family='"Liberation Sans", sans-serif'>=</text>
<text transform="matrix(1.1970 0 0 1.020 1249.55 928.10)" font-size="23" font-family='"Liberation Sans", sans-serif'>30</text>
<line x1="1296.9" y1="921.5" x2="1372.1" y2="921.5" stroke="#0080ff" stroke-width="4"/>
<text transform="matrix(1.1516 0 0 1.040 1162.37 954.80)" font-size="23" font-family='"Liberation Sans", sans-serif'>chiN</text>
<text transform="matrix(1.3603 0 0 1.000 1223.47 954.80)" font-size="23" font-family='"Liberation Sans", sans-serif'>=</text>
<text transform="matrix(1.2102 0 0 1.020 1249.54 954.80)" font-size="23" font-family='"Liberation Sans", sans-serif'>32</text>
<line x1="1296.9" y1="948.2" x2="1372.1" y2="948.2" stroke="#c000ff" stroke-width="4"/>
<path d="M849.8,1337.1 L851.4,1337.0 L853.1,1336.8 L854.8,1336.7 L856.4,1336.6 L858.0,1336.5 L859.7,1336.3 L861.4,1336.2 L863.0,1335.2 L864.7,1336.4 L866.4,1335.6 L868.0,1333.3 L869.7,1334.2 L871.4,1332.8 L873.1,1334.4 L875.1,1333.0 L877.1,1329.3 L878.7,1329.9 L880.3,1328.9 L881.9,1327.4 L883.5,1327.4 L885.1,1326.7 L887.1,1327.5 L889.1,1329.9 L890.6,1326.8 L892.1,1321.8 L893.6,1320.8 L895.1,1321.0 L896.6,1318.4 L898.1,1316.0 L899.6,1314.4 L901.1,1312.8 L903.1,1313.3 L905.1,1316.7 L906.6,1312.2 L908.1,1307.9 L909.6,1305.9 L911.1,1299.2 L912.7,1301.2 L914.3,1304.7 L916.0,1306.9 L917.6,1305.9 L919.2,1309.5 L920.7,1306.9 L922.2,1301.7 L923.7,1302.3 L925.2,1296.8 L926.8,1299.0 L928.4,1298.4 L930.0,1299.5 L931.6,1302.8 L933.2,1304.5 L934.7,1301.3 L936.2,1301.9 L937.7,1302.8 L939.2,1302.5 L941.2,1306.7 L943.2,1302.9 L944.7,1302.3 L946.2,1307.3 L947.7,1308.0 L949.2,1309.8 L950.7,1312.5 L952.2,1311.5 L953.7,1313.2 L955.2,1316.6 L956.9,1317.0 L958.6,1316.5 L960.3,1315.3 L962.0,1316.5 L963.6,1317.5 L965.3,1321.3 L966.8,1320.8 L968.3,1321.9 L969.8,1321.5 L971.3,1320.6 L972.8,1321.3 L974.3,1319.7 L975.8,1320.1 L977.3,1322.2 L978.9,1324.1 L980.5,1323.6 L982.1,1326.5 L983.7,1329.6 L985.3,1332.4 L986.9,1332.0 L988.5,1332.5 L990.1,1334.7 L991.7,1333.4 L993.3,1333.9 L994.8,1335.5 L996.3,1334.1 L997.8,1334.9 L999.3,1334.3 L1000.9,1336.1 L1002.4,1336.3 L1003.9,1335.3 L1005.4,1336.1 L1007.0,1336.4 L1008.5,1336.6 L1010.1,1336.9 L1011.7,1337.2 L1013.3,1337.4 L1014.8,1337.7 L1016.4,1337.9 L1018.0,1338.2 L1019.5,1338.5 L1021.1,1338.7 L1022.7,1339.0 L1024.3,1339.3" fill="none" stroke="#ff0000" stroke-width="4.6" stroke-linejoin="round" stroke-linecap="round"/>
<path d="M972.5,1339.2 L974.2,1338.9 L975.8,1338.6 L977.4,1338.3 L979.0,1338.0 L980.7,1337.7 L982.3,1337.4 L983.9,1337.2 L985.5,1336.9 L987.2,1336.6 L988.8,1336.3 L990.4,1336.0 L992.0,1335.7 L993.7,1335.4 L995.3,1334.5 L996.9,1333.8 L998.4,1334.9 L1000.0,1333.4 L1001.6,1334.1 L1003.1,1332.3 L1004.7,1334.7 L1006.3,1333.4 L1007.8,1331.7 L1009.4,1330.4 L1010.9,1331.7 L1012.4,1330.2 L1013.9,1326.2 L1015.4,1323.5 L1016.9,1327.8 L1018.4,1328.2 L1019.9,1327.2 L1021.4,1326.5 L1023.0,1327.9 L1024.6,1327.6 L1026.2,1323.7 L1027.8,1322.8 L1029.4,1323.6 L1031.0,1322.1 L1032.6,1321.8 L1034.2,1319.6 L1035.8,1317.0 L1037.4,1318.9 L1038.9,1319.8 L1040.4,1321.6 L1041.9,1317.6 L1043.4,1315.6 L1044.9,1316.5 L1046.4,1314.5 L1047.9,1309.3 L1049.4,1307.4 L1050.9,1308.9 L1052.5,1312.2 L1054.0,1311.9 L1055.5,1312.8 L1057.5,1307.7 L1059.5,1303.0 L1061.2,1304.0 L1063.0,1305.4 L1064.8,1308.7 L1066.5,1312.3 L1068.2,1310.4 L1069.8,1307.9 L1071.5,1305.4 L1073.1,1306.3 L1074.7,1305.6 L1076.3,1305.3 L1077.9,1304.6 L1079.5,1306.4 L1081.0,1309.6 L1082.5,1310.5 L1084.2,1307.9 L1085.8,1307.5 L1087.5,1304.4 L1089.0,1306.6 L1090.5,1309.1 L1092.0,1313.7 L1093.5,1312.3 L1095.1,1314.6 L1096.7,1313.4 L1098.4,1315.3 L1100.0,1318.4 L1101.6,1318.5 L1103.1,1318.5 L1104.6,1319.2 L1106.1,1320.7 L1107.6,1323.3 L1109.2,1323.3 L1110.7,1323.0 L1112.3,1322.6 L1113.8,1326.0 L1115.4,1327.3 L1116.9,1327.6 L1118.5,1326.2 L1120.0,1326.3 L1121.6,1325.6 L1123.1,1330.1 L1124.6,1328.9 L1126.1,1328.4 L1127.6,1333.0 L1128.9,1329.2 L1130.2,1327.1 L1131.7,1328.0 L1133.2,1328.5 L1134.8,1332.6 L1136.3,1334.0 L1137.9,1333.6 L1139.5,1335.3 L1141.1,1333.5 L1142.7,1335.9 L1144.2,1335.3 L1145.8,1334.7 L1147.4,1336.6 L1149.0,1336.9 L1150.6,1336.7 L1152.2,1336.8 L1153.8,1337.0 L1155.4,1337.1 L1157.0,1337.2 L1158.6,1337.4 L1160.2,1337.5 L1161.8,1337.6 L1163.4,1337.8 L1165.0,1337.9 L1166.6,1338.0 L1168.2,1338.2 L1169.7,1338.3 L1171.3,1338.5 L1172.9,1338.6 L1174.5,1338.7 L1176.1,1338.9 L1177.7,1339.0 L1179.3,1339.1 L1180.9,1339.3" fill="none" stroke="#00c000" stroke-width="4.6" stroke-linejoin="round" stroke-linecap="round"/>
<path d="M849.9,1339.8 L1090.0,1339.8 L1091.6,1339.6 L1093.2,1339.4 L1094.7,1339.2 L1096.3,1339.1 L1097.9,1338.9 L1099.5,1338.7 L1101.1,1338.5 L1102.6,1338.3 L1104.2,1338.1 L1105.8,1338.0 L1107.4,1337.8 L1108.9,1337.6 L1110.5,1337.4 L1112.1,1337.2 L1113.7,1337.0 L1115.3,1336.9 L1116.8,1336.7 L1118.4,1336.5 L1120.0,1337.0 L1121.5,1335.8 L1123.0,1335.6 L1124.6,1335.6 L1126.1,1336.7 L1127.6,1336.9 L1129.2,1337.2 L1130.7,1336.6 L1132.2,1336.5 L1133.7,1335.6 L1135.3,1334.0 L1136.8,1333.0 L1138.3,1330.3 L1139.9,1328.7 L1141.4,1330.9 L1143.0,1329.5 L1144.5,1329.0 L1146.1,1327.9 L1147.7,1327.0 L1149.4,1325.2 L1151.0,1327.8 L1152.6,1326.2 L1154.2,1327.2 L1155.9,1326.4 L1157.5,1326.0 L1159.2,1324.9 L1160.8,1325.2 L1162.3,1321.7 L1163.9,1320.9 L1165.6,1321.4 L1167.3,1323.1 L1169.0,1325.9 L1170.7,1320.1 L1172.3,1314.0 L1174.0,1308.1 L1175.5,1310.2 L1177.1,1316.3 L1178.9,1312.5 L1180.7,1310.3 L1182.4,1310.2 L1184.2,1306.6 L1185.8,1308.8 L1187.3,1308.0 L1188.9,1311.5 L1190.4,1313.6 L1192.2,1311.5 L1194.0,1311.6 L1195.7,1309.8 L1197.5,1309.6 L1199.0,1308.5 L1200.5,1307.9 L1202.1,1310.4 L1203.6,1309.3 L1205.3,1308.7 L1207.0,1304.6 L1208.7,1302.6 L1210.1,1306.8 L1211.4,1310.1 L1212.8,1311.0 L1214.3,1311.1 L1215.9,1313.2 L1217.4,1310.9 L1218.9,1311.3 L1220.5,1314.6 L1222.0,1314.6 L1223.6,1313.8 L1225.2,1310.8 L1226.9,1312.9 L1228.5,1309.9 L1230.1,1311.0 L1231.7,1310.8 L1233.4,1315.2 L1235.0,1313.9 L1236.7,1315.3 L1238.3,1317.7 L1239.9,1320.1 L1241.6,1318.8 L1243.2,1322.0 L1244.9,1323.5 L1246.5,1324.2 L1248.5,1323.3 L1250.5,1321.7 L1252.6,1328.1 L1254.3,1328.6 L1256.0,1327.8 L1257.7,1329.3 L1259.4,1329.8 L1261.1,1329.8 L1262.8,1331.7 L1264.3,1331.8 L1265.8,1330.4 L1267.4,1333.2 L1268.9,1331.5 L1270.4,1332.7 L1272.0,1331.9 L1273.5,1334.2 L1275.0,1333.0 L1276.6,1333.2 L1278.2,1335.2 L1279.8,1335.4 L1281.4,1334.3 L1282.9,1335.0 L1284.5,1334.2 L1286.1,1332.9 L1287.7,1333.2 L1289.3,1334.5 L1290.9,1336.0 L1292.5,1336.4 L1294.2,1337.6 L1295.8,1338.7 L1297.4,1339.8 L1299.0,1339.8 L1300.5,1339.8 L1302.1,1339.8 L1303.7,1339.8 L1305.2,1339.8 L1306.8,1339.8 L1308.4,1339.8 L1309.9,1339.8 L1311.5,1339.8 L1313.0,1339.8 L1314.6,1339.8 L1316.2,1339.8 L1317.7,1339.8 L1319.3,1339.8 L1320.9,1339.8 L1322.4,1339.8 L1324.0,1339.8 L1403.7,1339.8" fill="none" stroke="#0080ff" stroke-width="4.6" stroke-linejoin="round" stroke-linecap="round"/>
<path d="M987.7,1339.8 L1217.9,1339.8 L1219.5,1339.6 L1221.2,1339.5 L1222.8,1339.3 L1224.4,1339.1 L1226.1,1338.9 L1227.7,1338.8 L1229.3,1338.6 L1230.9,1338.4 L1232.6,1338.2 L1234.2,1338.0 L1235.8,1337.9 L1237.5,1337.7 L1239.1,1337.5 L1240.7,1337.3 L1242.3,1337.2 L1244.0,1337.0 L1245.6,1336.8 L1247.2,1336.6 L1248.9,1336.5 L1250.5,1336.9 L1251.9,1335.5 L1253.2,1334.9 L1254.6,1331.6 L1256.1,1333.8 L1257.6,1334.2 L1259.2,1333.5 L1260.7,1333.7 L1262.2,1333.1 L1263.8,1333.7 L1265.3,1334.3 L1266.8,1335.2 L1268.4,1333.6 L1270.1,1332.4 L1271.7,1331.0 L1273.4,1332.0 L1275.0,1329.4 L1276.5,1327.1 L1278.0,1327.8 L1279.6,1326.3 L1281.1,1326.3 L1282.7,1324.2 L1284.4,1324.5 L1286.0,1322.7 L1287.7,1322.6 L1289.3,1320.3 L1290.8,1321.3 L1292.3,1319.8 L1293.9,1320.1 L1295.4,1319.1 L1296.9,1318.5 L1298.5,1314.9 L1300.0,1312.7 L1301.5,1310.5 L1303.0,1311.8 L1304.6,1311.4 L1306.1,1313.3 L1307.6,1313.6 L1309.2,1312.7 L1310.7,1314.1 L1312.2,1312.1 L1313.8,1307.5 L1315.3,1306.8 L1316.8,1304.1 L1318.4,1302.2 L1319.9,1300.2 L1321.5,1303.7 L1323.1,1304.0 L1324.8,1303.5 L1326.4,1303.6 L1328.0,1307.7 L1329.7,1305.7 L1331.4,1303.8 L1333.1,1304.3 L1334.8,1303.3 L1336.5,1306.1 L1338.2,1302.6 L1339.9,1304.4 L1341.6,1303.5 L1343.3,1307.6 L1345.0,1307.0 L1346.7,1305.9 L1348.4,1309.1 L1350.0,1312.4 L1351.5,1313.2 L1353.0,1315.8 L1354.6,1319.6 L1356.3,1314.5 L1357.9,1312.0 L1359.6,1310.2 L1361.1,1313.7 L1362.7,1317.5 L1364.2,1321.1 L1365.8,1326.6 L1367.4,1327.2 L1369.0,1327.0 L1370.6,1324.9 L1372.2,1325.3 L1373.8,1326.2 L1375.4,1324.6 L1377.0,1327.2 L1378.6,1326.2 L1380.2,1327.3 L1381.9,1328.3 L1383.5,1329.1 L1385.1,1332.5 L1386.7,1330.9 L1388.4,1329.9 L1390.0,1333.0 L1391.7,1333.1 L1393.3,1330.5 L1394.7,1332.4 L1396.0,1333.8 L1397.4,1336.3 L1398.9,1336.3 L1400.5,1336.3 L1402.0,1336.3 L1403.5,1336.3 L1403.7,1339.8" fill="none" stroke="#c000ff" stroke-width="4.6" stroke-linejoin="round" stroke-linecap="round"/>
<path d="M849.9,1341.4V1159.6H1403.7V1341.4" fill="none" stroke="#505050" stroke-width="1.8" stroke-linejoin="round"/>
<line x1="849.1" y1="1340.55" x2="1404.5" y2="1340.55" stroke="#000" stroke-opacity="0.82" stroke-width="1.6"/>
<path d="M849.9,1339.8v-4.5M849.9,1159.6v4.5M919.1,1339.8v-4.5M919.1,1159.6v4.5M988.4,1339.8v-4.5M988.4,1159.6v4.5M1057.6,1339.8v-4.5M1057.6,1159.6v4.5M1126.8,1339.8v-4.5M1126.8,1159.6v4.5M1196.0,1339.8v-4.5M1196.0,1159.6v4.5M1265.2,1339.8v-4.5M1265.2,1159.6v4.5M1334.5,1339.8v-4.5M1334.5,1159.6v4.5M1403.7,1339.8v-4.5M1403.7,1159.6v4.5M849.9,1339.8h4.5M1403.7,1339.8h-4.5M849.9,1249.7h4.5M1403.7,1249.7h-4.5M849.9,1159.6h4.5M1403.7,1159.6h-4.5" stroke="#505050" stroke-width="1.4" fill="none"/>
<text transform="matrix(1.1774 0 0 1.020 836.12 1373.70)" font-size="23" font-family='"Liberation Sans", sans-serif'>33</text>
<text transform="matrix(1.1609 0 0 1.020 905.36 1373.70)" font-size="23" font-family='"Liberation Sans", sans-serif'>34</text>
<text transform="matrix(1.1752 0 0 1.020 974.57 1373.70)" font-size="23" font-family='"Liberation Sans", sans-serif'>35</text>
<text transform="matrix(1.1774 0 0 1.020 1043.79 1373.70)" font-size="23" font-family='"Liberation Sans", sans-serif'>36</text>
<text transform="matrix(1.1847 0 0 1.020 1113.01 1373.70)" font-size="23" font-family='"Liberation Sans", sans-serif'>37</text>
<text transform="matrix(1.1768 0 0 1.020 1182.24 1373.70)" font-size="23" font-family='"Liberation Sans", sans-serif'>38</text>
<text transform="matrix(1.1813 0 0 1.020 1251.47 1373.70)" font-size="23" font-family='"Liberation Sans", sans-serif'>39</text>
<text transform="matrix(1.1550 0 0 1.020 1321.12 1373.70)" font-size="23" font-family='"Liberation Sans", sans-serif'>40</text>
<text transform="matrix(1.1658 0 0 1.020 1390.33 1373.70)" font-size="23" font-family='"Liberation Sans", sans-serif'>41</text>
<text transform="matrix(1.1460 0 0 1.020 814.97 1346.50)" font-size="23" font-family='"Liberation Sans", sans-serif'>0</text>
<text transform="matrix(1.2186 0 0 1.020 791.01 1256.40)" font-size="23" font-family='"Liberation Sans", sans-serif'>0.1</text>
<text transform="matrix(1.2200 0 0 1.020 791.00 1166.30)" font-size="23" font-family='"Liberation Sans", sans-serif'>0.2</text>
<text transform="matrix(1.1516 0 0 1.040 1162.37 1183.50)" font-size="23" font-family='"Liberation Sans", sans-serif'>chiN</text>
<text transform="matrix(1.3603 0 0 1.000 1223.47 1183.50)" font-size="23" font-family='"Liberation Sans", sans-serif'>=</text>
<text transform="matrix(1.1859 0 0 1.020 1249.56 1183.50)" font-size="23" font-family='"Liberation Sans", sans-serif'>34</text>
<line x1="1296.9" y1="1176.9" x2="1372.1" y2="1176.9" stroke="#ff0000" stroke-width="4"/>
<text transform="matrix(1.1516 0 0 1.040 1162.37 1210.20)" font-size="23" font-family='"Liberation Sans", sans-serif'>chiN</text>
<text transform="matrix(1.3603 0 0 1.000 1223.47 1210.20)" font-size="23" font-family='"Liberation Sans", sans-serif'>=</text>
<text transform="matrix(1.2027 0 0 1.020 1249.55 1210.20)" font-size="23" font-family='"Liberation Sans", sans-serif'>36</text>
<line x1="1296.9" y1="1203.6" x2="1372.1" y2="1203.6" stroke="#00c000" stroke-width="4"/>
<text transform="matrix(1.1516 0 0 1.040 1162.37 1236.90)" font-size="23" font-family='"Liberation Sans", sans-serif'>chiN</text>
<text transform="matrix(1.3603 0 0 1.000 1223.47 1236.90)" font-size="23" font-family='"Liberation Sans", sans-serif'>=</text>
<text transform="matrix(1.2022 0 0 1.020 1249.55 1236.90)" font-size="23" font-family='"Liberation Sans", sans-serif'>38</text>
<line x1="1296.9" y1="1230.3" x2="1372.1" y2="1230.3" stroke="#0080ff" stroke-width="4"/>
<text transform="matrix(1.1516 0 0 1.040 1162.37 1263.60)" font-size="23" font-family='"Liberation Sans", sans-serif'>chiN</text>
<text transform="matrix(1.3603 0 0 1.000 1223.47 1263.60)" font-size="23" font-family='"Liberation Sans", sans-serif'>=</text>
<text transform="matrix(1.1798 0 0 1.020 1249.98 1263.60)" font-size="23" font-family='"Liberation Sans", sans-serif'>40</text>
<line x1="1296.9" y1="1257.0" x2="1372.1" y2="1257.0" stroke="#c000ff" stroke-width="4"/>
<text transform="translate(73.70,34.60) scale(1,1.04)" font-size="42" xml:space="preserve">(a)  <tspan font-style="italic">f</tspan> = 0.2, <tspan font-style="italic">N</tspan> = 20</text>
<text transform="translate(33.90,386.65) rotate(-90)" font-size="42">Prob.</text>
<g transform="translate(0.00,0.00)"><path d="M350.2,715.9 L354.8,715.9 L377.2,689.1 L375.3,688.5 Z" fill="#000"/><path d="M357,694.6 C358.3,691.6 360.4,688.8 362.6,688.8 C364.6,688.8 365.1,691.5 364.9,694.5 C364.7,698 363.9,702 363.4,705.5 C362.9,709.5 362.9,713.5 364.6,715.4 C366.6,717 369.6,714.5 371.7,709.9" fill="none" stroke="#000" stroke-width="2.1" stroke-linecap="round"/></g>
<text transform="matrix(1.0000 0 0 1.000 374.71 707.00)" font-size="42" font-family='"Liberation Sans", sans-serif' font-style="italic">N</text>
<text transform="translate(798.20,36.80) scale(1,1.04)" font-size="42" xml:space="preserve">(b)  <tspan font-style="italic">f</tspan> = 0.2, <tspan font-style="italic">N</tspan> = 40</text>
<text transform="translate(758.70,384.75) rotate(-90)" font-size="42">Prob.</text>
<g transform="translate(724.30,-0.70)"><path d="M350.2,715.9 L354.8,715.9 L377.2,689.1 L375.3,688.5 Z" fill="#000"/><path d="M357,694.6 C358.3,691.6 360.4,688.8 362.6,688.8 C364.6,688.8 365.1,691.5 364.9,694.5 C364.7,698 363.9,702 363.4,705.5 C362.9,709.5 362.9,713.5 364.6,715.4 C366.6,717 369.6,714.5 371.7,709.9" fill="none" stroke="#000" stroke-width="2.1" stroke-linecap="round"/></g>
<text transform="matrix(1.0000 0 0 1.000 1099.01 706.30)" font-size="42" font-family='"Liberation Sans", sans-serif' font-style="italic">N</text>
<text transform="translate(73.70,790.60) scale(1,1.04)" font-size="42" xml:space="preserve">(c)  <tspan font-style="italic">f</tspan> = 0.35, <tspan font-style="italic">N</tspan> = 20</text>
<text transform="translate(33.90,1141.65) rotate(-90)" font-size="42">Prob.</text>
<g transform="translate(0.00,756.60)"><path d="M350.2,715.9 L354.8,715.9 L377.2,689.1 L375.3,688.5 Z" fill="#000"/><path d="M357,694.6 C358.3,691.6 360.4,688.8 362.6,688.8 C364.6,688.8 365.1,691.5 364.9,694.5 C364.7,698 363.9,702 363.4,705.5 C362.9,709.5 362.9,713.5 364.6,715.4 C366.6,717 369.6,714.5 371.7,709.9" fill="none" stroke="#000" stroke-width="2.1" stroke-linecap="round"/></g>
<text transform="matrix(1.0000 0 0 1.000 374.71 1463.60)" font-size="42" font-family='"Liberation Sans", sans-serif' font-style="italic">N</text>
<text transform="translate(798.20,792.50) scale(1,1.04)" font-size="42" xml:space="preserve">(d)  <tspan font-style="italic">f</tspan> = 0.35, <tspan font-style="italic">N</tspan> = 40</text>
<text transform="translate(758.70,1141.25) rotate(-90)" font-size="42">Prob.</text>
<g transform="translate(724.30,756.00)"><path d="M350.2,715.9 L354.8,715.9 L377.2,689.1 L375.3,688.5 Z" fill="#000"/><path d="M357,694.6 C358.3,691.6 360.4,688.8 362.6,688.8 C364.6,688.8 365.1,691.5 364.9,694.5 C364.7,698 363.9,702 363.4,705.5 C362.9,709.5 362.9,713.5 364.6,715.4 C366.6,717 369.6,714.5 371.7,709.9" fill="none" stroke="#000" stroke-width="2.1" stroke-linecap="round"/></g>
<text transform="matrix(1.0000 0 0 1.000 1099.01 1463.00)" font-size="42" font-family='"Liberation Sans", sans-serif' font-style="italic">N</text>
</g></svg>
</body></html>
